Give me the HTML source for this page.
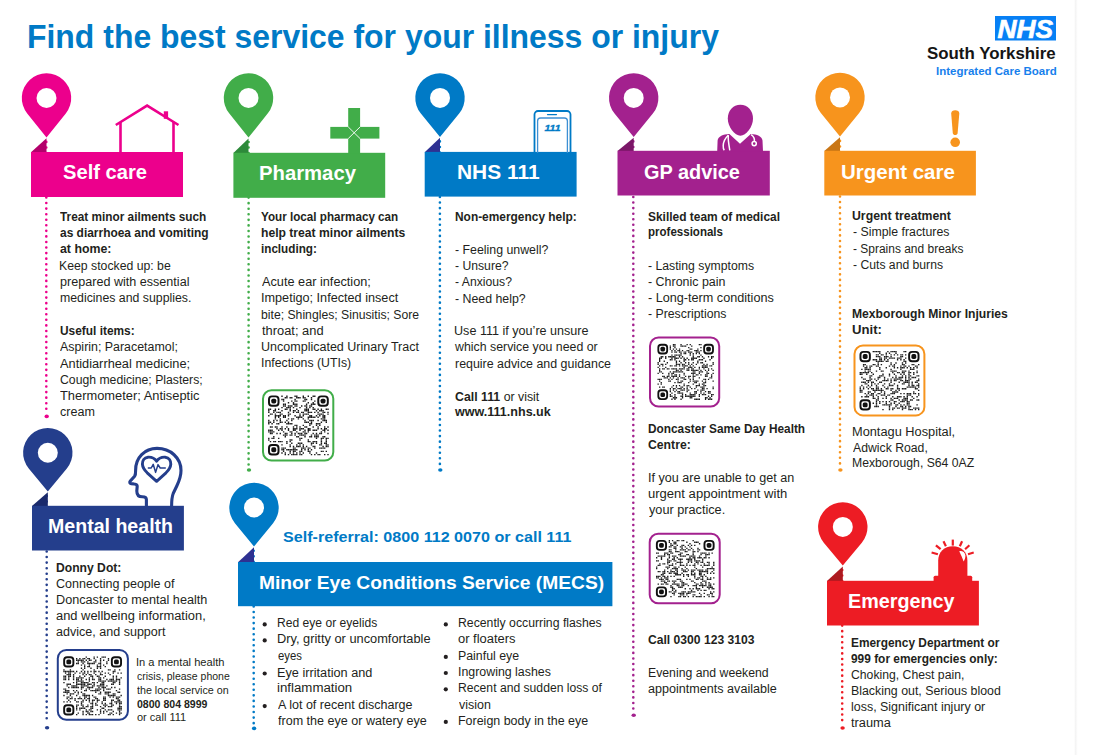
<!DOCTYPE html><html><head><meta charset="utf-8"><style>html,body{margin:0;padding:0;background:#fff;width:1107px;height:755px;overflow:hidden;position:relative}.t{position:absolute;white-space:nowrap;font-family:"Liberation Sans",sans-serif;line-height:normal;transform-origin:0 0}svg{position:absolute;left:0;top:0}</style></head><body><svg width="1107" height="755" viewBox="0 0 1107 755"><defs><linearGradient id="sg" x1="0" x2="1" y1="0" y2="0"><stop offset="0" stop-color="#f1f1f1"/><stop offset="1" stop-color="#ffffff"/></linearGradient></defs><rect x="1074.8" y="0" width="3" height="755" fill="url(#sg)"/><rect x="995" y="16" width="61" height="24.5" fill="#0780f5"/><text x="997.5" y="37.8" font-family="Liberation Sans" font-weight="bold" font-style="italic" font-size="26.5" fill="#fff" stroke="#fff" stroke-width="0.7" textLength="55.5" lengthAdjust="spacingAndGlyphs">NHS</text><line x1="46.3" y1="141.9" x2="46.3" y2="411.4" stroke="#ec008c" stroke-width="2.6" stroke-linecap="round" stroke-dasharray="0 5.56"/><ellipse cx="46.70" cy="416.40" rx="2.2" ry="1.8" fill="#ec008c"/><path d="M46.50 137.50 L65.78 113.45 A24.7 24.7 0 1 0 27.22 113.45 Z" fill="#ec008c"/><circle cx="46.50" cy="98.00" r="10" fill="#fff"/><polygon points="31,152.3 46.5,138.3 46.5,152.3" fill="#b3006b"/><rect x="31" y="152" width="152.00" height="45.00" fill="#ec008c"/><line x1="248.6" y1="142.0" x2="248.6" y2="465" stroke="#41ad49" stroke-width="2.6" stroke-linecap="round" stroke-dasharray="0 5.56"/><ellipse cx="249.00" cy="470.00" rx="2.2" ry="1.8" fill="#41ad49"/><path d="M248.50 137.60 L267.84 113.27 A24.7 24.7 0 1 0 229.16 113.27 Z" fill="#41ad49"/><circle cx="248.50" cy="97.90" r="10" fill="#fff"/><polygon points="233.4,153.10000000000002 248.5,138.4 248.5,153.10000000000002" fill="#2d8a3a"/><rect x="233.4" y="152.8" width="151.80" height="45.00" fill="#41ad49"/><line x1="439.9" y1="141.4" x2="439.9" y2="465" stroke="#007ac6" stroke-width="2.6" stroke-linecap="round" stroke-dasharray="0 5.56"/><ellipse cx="440.30" cy="470.00" rx="2.2" ry="1.8" fill="#007ac6"/><path d="M440.00 137.00 L459.15 113.50 A24.7 24.7 0 1 0 420.85 113.50 Z" fill="#007ac6"/><circle cx="440.00" cy="97.90" r="10" fill="#fff"/><polygon points="424.7,152.20000000000002 440,137.8 440,152.20000000000002" fill="#2e3192"/><rect x="424.7" y="151.9" width="151.90" height="44.70" fill="#007ac6"/><line x1="633.3" y1="141.4" x2="633.3" y2="710.3" stroke="#a3218e" stroke-width="2.6" stroke-linecap="round" stroke-dasharray="0 5.56"/><ellipse cx="633.70" cy="715.30" rx="2.2" ry="1.8" fill="#a3218e"/><path d="M633.70 137.00 L652.85 113.50 A24.7 24.7 0 1 0 614.55 113.50 Z" fill="#a3218e"/><circle cx="633.70" cy="97.90" r="10" fill="#fff"/><polygon points="617.5,151.10000000000002 633.7,137.8 633.7,151.10000000000002" fill="#7b1768"/><rect x="617.5" y="150.8" width="152.30" height="44.70" fill="#a3218e"/><line x1="840" y1="140.9" x2="840" y2="465" stroke="#f7941d" stroke-width="2.6" stroke-linecap="round" stroke-dasharray="0 5.56"/><ellipse cx="840.40" cy="470.00" rx="2.2" ry="1.8" fill="#f7941d"/><path d="M840.00 136.50 L859.15 113.00 A24.7 24.7 0 1 0 820.85 113.00 Z" fill="#f7941d"/><circle cx="840.00" cy="97.40" r="10" fill="#fff"/><polygon points="824.3,151.10000000000002 840,137.3 840,151.10000000000002" fill="#c97616"/><rect x="824.3" y="150.8" width="151.60" height="44.70" fill="#f7941d"/><line x1="46.7" y1="495.9" x2="46.7" y2="722.8" stroke="#243e8c" stroke-width="2.6" stroke-linecap="round" stroke-dasharray="0 5.56"/><ellipse cx="47.10" cy="727.80" rx="2.2" ry="1.8" fill="#243e8c"/><path d="M47.80 491.50 L66.85 468.42 A24.7 24.7 0 1 0 28.75 468.42 Z" fill="#243e8c"/><circle cx="47.80" cy="452.70" r="10" fill="#fff"/><polygon points="32,506.1 47.8,492.3 47.8,506.1" fill="#1a2a6c"/><rect x="32" y="505.8" width="151.90" height="44.70" fill="#243e8c"/><line x1="253.7" y1="550.8" x2="253.7" y2="723.4" stroke="#007ac6" stroke-width="2.6" stroke-linecap="round" stroke-dasharray="0 5.56"/><ellipse cx="254.10" cy="728.40" rx="2.2" ry="1.8" fill="#007ac6"/><path d="M254.00 546.40 L273.08 523.18 A24.7 24.7 0 1 0 234.92 523.18 Z" fill="#007ac6"/><circle cx="254.00" cy="507.50" r="10" fill="#fff"/><polygon points="238,562.3 254,547.1999999999999 254,562.3" fill="#2e3192"/><rect x="238" y="562" width="374.40" height="44.20" fill="#007ac6"/><line x1="842.2" y1="570.0" x2="842.2" y2="723" stroke="#ed1c24" stroke-width="2.6" stroke-linecap="round" stroke-dasharray="0 5.56"/><ellipse cx="842.60" cy="728.00" rx="2.2" ry="1.8" fill="#ed1c24"/><path d="M842.80 565.60 L861.81 542.66 A24.7 24.7 0 1 0 823.79 542.66 Z" fill="#ed1c24"/><circle cx="842.80" cy="526.90" r="10" fill="#fff"/><polygon points="827,581.0999999999999 842.8,566.4 842.8,581.0999999999999" fill="#ad1a20"/><rect x="827" y="580.8" width="151.90" height="44.70" fill="#ed1c24"/><g fill="none" stroke="#ec008c" stroke-width="2.6"><polyline points="115.8,125 147.1,105.6 178.5,125"/><line x1="120.5" y1="122" x2="120.5" y2="152.5"/><line x1="173.5" y1="122" x2="173.5" y2="152.5"/></g><rect x="163.8" y="111.3" width="4.3" height="7.5" fill="#ec008c"/><rect x="348.2" y="108" width="11.9" height="45.5" fill="#41ad49"/><rect x="330.3" y="126.9" width="49.1" height="11.7" fill="#41ad49"/><g stroke="#fff" stroke-width="0.9"><line x1="348.2" y1="126.9" x2="360.1" y2="138.6"/><line x1="360.1" y1="126.9" x2="348.2" y2="138.6"/></g><g fill="none" stroke="#007ac6"><path d="M534.5 153 V114.5 a3.5 3.5 0 0 1 3.5 -3.5 H567 a3.5 3.5 0 0 1 3.5 3.5 V153" stroke-width="1.8"/><path d="M537.6 153 V121 a3 3 0 0 1 3 -3 H564.4 a3 3 0 0 1 3 3 V153" stroke-width="1.3" stroke="#3d8fd3"/><line x1="547.5" y1="114.6" x2="556.5" y2="114.6" stroke-width="1.2" stroke-linecap="round"/></g><text x="544.5" y="130.8" font-family="Liberation Sans" font-weight="bold" font-style="italic" font-size="9.2" fill="#007ac6" stroke="#007ac6" stroke-width="0.3" textLength="16" lengthAdjust="spacingAndGlyphs">111</text><path d="M740.4 104.7 C747.8 104.7 753 110.5 753 118.5 C753 127 746 135.7 740.4 135.7 C734.8 135.7 727.8 127 727.8 118.5 C727.8 110.5 733 104.7 740.4 104.7 Z" fill="#a3218e"/><path d="M717.2 151.5 L717.6 140.5 C718.2 136 723 134.3 729.4 133.9 L740 143.8 L750.8 133.9 C757 134.3 762 136 762.5 140.5 L763 151.5 Z" fill="#a3218e"/><g fill="none" stroke="#fff" stroke-width="1.5"><path d="M728.3 135.2 C725.3 138 723.3 142 723.2 145.5 C723.1 148 723.6 149.5 724.3 150.3"/><path d="M728.3 135.2 C727.8 139 728.5 143 729.8 150.3"/><path d="M751.2 134.6 C753.8 136.5 754.8 139 754.3 141.5"/><circle cx="754.2" cy="143.6" r="2.1"/></g><path d="M951.2 113.6 C951.2 111 953 110.2 955.2 110.2 C957.5 110.2 959.3 111 959.3 113.6 L957.6 133.2 C957.4 134.6 956.4 134.9 955.2 134.9 C954 134.9 953 134.6 952.8 133.2 Z" fill="#f7941d"/><circle cx="955.2" cy="142.3" r="4.8" fill="#f7941d"/><g fill="none" stroke="#243e8c" stroke-width="3.1" stroke-linejoin="round"><path d="M146.4 506.5 L146.4 499.5 C146.4 497.5 145 496.8 142.3 496.8 C138.6 496.8 136.8 494.5 136.8 491 L137.2 486.5 C137.3 484.8 136.4 484.2 134.3 484 L131.2 483.6 C129.6 483.4 129.4 482.2 130.3 481.1 L134.6 476.2 C135.5 475 135.7 473.4 135.6 470.5 C135.4 457.5 144.8 448.4 157 448.4 C170.5 448.4 181 458 181 470.5 C181 476 179.6 480 177 485.5 L173.2 493.5 C172 496.5 171.6 500 171.6 506.5"/><path d="M156.6 461.2 C154.2 457.8 151 457 148 457.2 C144 457.6 142.3 460.8 142.4 464.2 C142.6 467.8 144.6 470.3 147.2 472.8 L156.6 481.3 L166 472.8 C168.6 470.3 170.6 467.8 170.8 464.2 C170.9 460.8 169.2 457.6 165.2 457.2 C162.2 457 159 457.8 156.6 461.2 Z" stroke-width="2.9"/><path d="M147.8 468 L151.2 468 L153.2 464.3 L155.6 472.4 L158 464.6 L160.2 468 L165.8 468" stroke-width="1.5"/></g><path d="M938.2 577 L938.2 560.5 C938.2 552 944.3 546.3 952.8 546.3 C961.3 546.3 967.4 552 967.4 560.5 L967.4 577 Z" fill="#ed1c24"/><rect x="933.6" y="575.8" width="38.6" height="6" rx="1.5" fill="#ed1c24"/><g stroke="#ed1c24" stroke-width="2.2"><line x1="952.8" y1="539.6" x2="952.8" y2="545.6"/><line x1="943.5" y1="541.3" x2="945.9" y2="546.3"/><line x1="962.1" y1="541.3" x2="959.8" y2="546.3"/><line x1="935.9" y1="545.3" x2="940.6" y2="549.2"/><line x1="969.4" y1="545.3" x2="965.1" y2="549.2"/><line x1="931.6" y1="552.5" x2="937.9" y2="554.2"/><line x1="973.7" y1="552.5" x2="968" y2="554.2"/></g><path d="M959.3 551.2 C962 550.6 965 552.2 965.4 555.2 C965.6 557.5 964.6 560 963.6 561.5 C962.6 558 960.6 554.2 959.3 551.2 Z" fill="#fff"/><rect x="263.00" y="390.20" width="70.30" height="70.30" rx="8.5" fill="#fff" stroke="#41ad49" stroke-width="2"/><path d="M281.3 395.5h1.40v1.38h-1.40zM286.2 395.5h1.40v1.38h-1.40zM294.4 395.5h1.40v1.38h-1.40zM296.1 395.5h1.40v1.38h-1.40zM302.6 395.5h1.40v1.38h-1.40zM307.6 395.5h1.40v1.38h-1.40zM312.5 395.5h1.40v1.38h-1.40zM314.1 395.5h1.40v1.38h-1.40zM284.6 397.1h1.40v1.38h-1.40zM286.2 397.1h1.40v1.38h-1.40zM289.5 397.1h1.40v1.38h-1.40zM291.1 397.1h1.40v1.38h-1.40zM296.1 397.1h1.40v1.38h-1.40zM297.7 397.1h1.40v1.38h-1.40zM299.3 397.1h1.40v1.38h-1.40zM302.6 397.1h1.40v1.38h-1.40zM304.3 397.1h1.40v1.38h-1.40zM310.8 397.1h1.40v1.38h-1.40zM281.3 398.8h1.40v1.38h-1.40zM282.9 398.8h1.40v1.38h-1.40zM294.4 398.8h1.40v1.38h-1.40zM304.3 398.8h1.40v1.38h-1.40zM305.9 398.8h1.40v1.38h-1.40zM310.8 398.8h1.40v1.38h-1.40zM282.9 400.4h1.40v1.38h-1.40zM291.1 400.4h1.40v1.38h-1.40zM294.4 400.4h1.40v1.38h-1.40zM296.1 400.4h1.40v1.38h-1.40zM302.6 400.4h1.40v1.38h-1.40zM304.3 400.4h1.40v1.38h-1.40zM314.1 400.4h1.40v1.38h-1.40zM287.8 402.0h1.40v1.38h-1.40zM292.8 402.0h1.40v1.38h-1.40zM307.6 402.0h1.40v1.38h-1.40zM312.5 402.0h1.40v1.38h-1.40zM282.9 403.6h1.40v1.38h-1.40zM284.6 403.6h1.40v1.38h-1.40zM292.8 403.6h1.40v1.38h-1.40zM294.4 403.6h1.40v1.38h-1.40zM296.1 403.6h1.40v1.38h-1.40zM305.9 403.6h1.40v1.38h-1.40zM310.8 403.6h1.40v1.38h-1.40zM312.5 403.6h1.40v1.38h-1.40zM314.1 403.6h1.40v1.38h-1.40zM282.9 405.3h1.40v1.38h-1.40zM284.6 405.3h1.40v1.38h-1.40zM287.8 405.3h1.40v1.38h-1.40zM289.5 405.3h1.40v1.38h-1.40zM291.1 405.3h1.40v1.38h-1.40zM294.4 405.3h1.40v1.38h-1.40zM296.1 405.3h1.40v1.38h-1.40zM301.0 405.3h1.40v1.38h-1.40zM304.3 405.3h1.40v1.38h-1.40zM305.9 405.3h1.40v1.38h-1.40zM309.2 405.3h1.40v1.38h-1.40zM310.8 405.3h1.40v1.38h-1.40zM281.3 406.9h1.40v1.38h-1.40zM286.2 406.9h1.40v1.38h-1.40zM287.8 406.9h1.40v1.38h-1.40zM289.5 406.9h1.40v1.38h-1.40zM292.8 406.9h1.40v1.38h-1.40zM299.3 406.9h1.40v1.38h-1.40zM305.9 406.9h1.40v1.38h-1.40zM309.2 406.9h1.40v1.38h-1.40zM312.5 406.9h1.40v1.38h-1.40zM268.1 408.5h1.40v1.38h-1.40zM269.8 408.5h1.40v1.38h-1.40zM274.7 408.5h1.40v1.38h-1.40zM278.0 408.5h1.40v1.38h-1.40zM284.6 408.5h1.40v1.38h-1.40zM286.2 408.5h1.40v1.38h-1.40zM289.5 408.5h1.40v1.38h-1.40zM296.1 408.5h1.40v1.38h-1.40zM304.3 408.5h1.40v1.38h-1.40zM305.9 408.5h1.40v1.38h-1.40zM307.6 408.5h1.40v1.38h-1.40zM312.5 408.5h1.40v1.38h-1.40zM314.1 408.5h1.40v1.38h-1.40zM317.4 408.5h1.40v1.38h-1.40zM320.7 408.5h1.40v1.38h-1.40zM325.6 408.5h1.40v1.38h-1.40zM327.3 408.5h1.40v1.38h-1.40zM268.1 410.1h1.40v1.38h-1.40zM273.1 410.1h1.40v1.38h-1.40zM274.7 410.1h1.40v1.38h-1.40zM281.3 410.1h1.40v1.38h-1.40zM289.5 410.1h1.40v1.38h-1.40zM292.8 410.1h1.40v1.38h-1.40zM294.4 410.1h1.40v1.38h-1.40zM297.7 410.1h1.40v1.38h-1.40zM304.3 410.1h1.40v1.38h-1.40zM305.9 410.1h1.40v1.38h-1.40zM307.6 410.1h1.40v1.38h-1.40zM315.8 410.1h1.40v1.38h-1.40zM319.1 410.1h1.40v1.38h-1.40zM320.7 410.1h1.40v1.38h-1.40zM322.4 410.1h1.40v1.38h-1.40zM268.1 411.7h1.40v1.38h-1.40zM273.1 411.7h1.40v1.38h-1.40zM276.3 411.7h1.40v1.38h-1.40zM278.0 411.7h1.40v1.38h-1.40zM279.6 411.7h1.40v1.38h-1.40zM287.8 411.7h1.40v1.38h-1.40zM292.8 411.7h1.40v1.38h-1.40zM296.1 411.7h1.40v1.38h-1.40zM297.7 411.7h1.40v1.38h-1.40zM301.0 411.7h1.40v1.38h-1.40zM302.6 411.7h1.40v1.38h-1.40zM307.6 411.7h1.40v1.38h-1.40zM309.2 411.7h1.40v1.38h-1.40zM310.8 411.7h1.40v1.38h-1.40zM314.1 411.7h1.40v1.38h-1.40zM317.4 411.7h1.40v1.38h-1.40zM322.4 411.7h1.40v1.38h-1.40zM324.0 411.7h1.40v1.38h-1.40zM327.3 411.7h1.40v1.38h-1.40zM269.8 413.4h1.40v1.38h-1.40zM271.4 413.4h1.40v1.38h-1.40zM274.7 413.4h1.40v1.38h-1.40zM279.6 413.4h1.40v1.38h-1.40zM281.3 413.4h1.40v1.38h-1.40zM287.8 413.4h1.40v1.38h-1.40zM289.5 413.4h1.40v1.38h-1.40zM299.3 413.4h1.40v1.38h-1.40zM302.6 413.4h1.40v1.38h-1.40zM304.3 413.4h1.40v1.38h-1.40zM305.9 413.4h1.40v1.38h-1.40zM307.6 413.4h1.40v1.38h-1.40zM317.4 413.4h1.40v1.38h-1.40zM319.1 413.4h1.40v1.38h-1.40zM320.7 413.4h1.40v1.38h-1.40zM322.4 413.4h1.40v1.38h-1.40zM327.3 413.4h1.40v1.38h-1.40zM268.1 415.0h1.40v1.38h-1.40zM274.7 415.0h1.40v1.38h-1.40zM276.3 415.0h1.40v1.38h-1.40zM278.0 415.0h1.40v1.38h-1.40zM279.6 415.0h1.40v1.38h-1.40zM282.9 415.0h1.40v1.38h-1.40zM284.6 415.0h1.40v1.38h-1.40zM287.8 415.0h1.40v1.38h-1.40zM294.4 415.0h1.40v1.38h-1.40zM299.3 415.0h1.40v1.38h-1.40zM302.6 415.0h1.40v1.38h-1.40zM309.2 415.0h1.40v1.38h-1.40zM310.8 415.0h1.40v1.38h-1.40zM315.8 415.0h1.40v1.38h-1.40zM319.1 415.0h1.40v1.38h-1.40zM322.4 415.0h1.40v1.38h-1.40zM324.0 415.0h1.40v1.38h-1.40zM274.7 416.6h1.40v1.38h-1.40zM278.0 416.6h1.40v1.38h-1.40zM282.9 416.6h1.40v1.38h-1.40zM284.6 416.6h1.40v1.38h-1.40zM296.1 416.6h1.40v1.38h-1.40zM297.7 416.6h1.40v1.38h-1.40zM299.3 416.6h1.40v1.38h-1.40zM301.0 416.6h1.40v1.38h-1.40zM307.6 416.6h1.40v1.38h-1.40zM309.2 416.6h1.40v1.38h-1.40zM310.8 416.6h1.40v1.38h-1.40zM312.5 416.6h1.40v1.38h-1.40zM314.1 416.6h1.40v1.38h-1.40zM317.4 416.6h1.40v1.38h-1.40zM322.4 416.6h1.40v1.38h-1.40zM324.0 416.6h1.40v1.38h-1.40zM274.7 418.2h1.40v1.38h-1.40zM279.6 418.2h1.40v1.38h-1.40zM287.8 418.2h1.40v1.38h-1.40zM291.1 418.2h1.40v1.38h-1.40zM292.8 418.2h1.40v1.38h-1.40zM297.7 418.2h1.40v1.38h-1.40zM302.6 418.2h1.40v1.38h-1.40zM307.6 418.2h1.40v1.38h-1.40zM320.7 418.2h1.40v1.38h-1.40zM322.4 418.2h1.40v1.38h-1.40zM324.0 418.2h1.40v1.38h-1.40zM268.1 419.8h1.40v1.38h-1.40zM273.1 419.8h1.40v1.38h-1.40zM276.3 419.8h1.40v1.38h-1.40zM279.6 419.8h1.40v1.38h-1.40zM286.2 419.8h1.40v1.38h-1.40zM291.1 419.8h1.40v1.38h-1.40zM304.3 419.8h1.40v1.38h-1.40zM309.2 419.8h1.40v1.38h-1.40zM310.8 419.8h1.40v1.38h-1.40zM312.5 419.8h1.40v1.38h-1.40zM317.4 419.8h1.40v1.38h-1.40zM322.4 419.8h1.40v1.38h-1.40zM324.0 419.8h1.40v1.38h-1.40zM325.6 419.8h1.40v1.38h-1.40zM268.1 421.5h1.40v1.38h-1.40zM269.8 421.5h1.40v1.38h-1.40zM273.1 421.5h1.40v1.38h-1.40zM279.6 421.5h1.40v1.38h-1.40zM281.3 421.5h1.40v1.38h-1.40zM284.6 421.5h1.40v1.38h-1.40zM287.8 421.5h1.40v1.38h-1.40zM304.3 421.5h1.40v1.38h-1.40zM305.9 421.5h1.40v1.38h-1.40zM307.6 421.5h1.40v1.38h-1.40zM310.8 421.5h1.40v1.38h-1.40zM320.7 421.5h1.40v1.38h-1.40zM325.6 421.5h1.40v1.38h-1.40zM268.1 423.1h1.40v1.38h-1.40zM271.4 423.1h1.40v1.38h-1.40zM276.3 423.1h1.40v1.38h-1.40zM278.0 423.1h1.40v1.38h-1.40zM286.2 423.1h1.40v1.38h-1.40zM287.8 423.1h1.40v1.38h-1.40zM289.5 423.1h1.40v1.38h-1.40zM291.1 423.1h1.40v1.38h-1.40zM309.2 423.1h1.40v1.38h-1.40zM310.8 423.1h1.40v1.38h-1.40zM315.8 423.1h1.40v1.38h-1.40zM317.4 423.1h1.40v1.38h-1.40zM319.1 423.1h1.40v1.38h-1.40zM294.4 424.7h1.40v1.38h-1.40zM296.1 424.7h1.40v1.38h-1.40zM302.6 424.7h1.40v1.38h-1.40zM309.2 424.7h1.40v1.38h-1.40zM315.8 424.7h1.40v1.38h-1.40zM319.1 424.7h1.40v1.38h-1.40zM269.8 426.3h1.40v1.38h-1.40zM271.4 426.3h1.40v1.38h-1.40zM274.7 426.3h1.40v1.38h-1.40zM276.3 426.3h1.40v1.38h-1.40zM281.3 426.3h1.40v1.38h-1.40zM286.2 426.3h1.40v1.38h-1.40zM292.8 426.3h1.40v1.38h-1.40zM296.1 426.3h1.40v1.38h-1.40zM299.3 426.3h1.40v1.38h-1.40zM304.3 426.3h1.40v1.38h-1.40zM305.9 426.3h1.40v1.38h-1.40zM312.5 426.3h1.40v1.38h-1.40zM317.4 426.3h1.40v1.38h-1.40zM324.0 426.3h1.40v1.38h-1.40zM327.3 426.3h1.40v1.38h-1.40zM276.3 428.0h1.40v1.38h-1.40zM279.6 428.0h1.40v1.38h-1.40zM281.3 428.0h1.40v1.38h-1.40zM284.6 428.0h1.40v1.38h-1.40zM287.8 428.0h1.40v1.38h-1.40zM292.8 428.0h1.40v1.38h-1.40zM294.4 428.0h1.40v1.38h-1.40zM296.1 428.0h1.40v1.38h-1.40zM299.3 428.0h1.40v1.38h-1.40zM301.0 428.0h1.40v1.38h-1.40zM302.6 428.0h1.40v1.38h-1.40zM307.6 428.0h1.40v1.38h-1.40zM309.2 428.0h1.40v1.38h-1.40zM317.4 428.0h1.40v1.38h-1.40zM320.7 428.0h1.40v1.38h-1.40zM324.0 428.0h1.40v1.38h-1.40zM325.6 428.0h1.40v1.38h-1.40zM268.1 429.6h1.40v1.38h-1.40zM269.8 429.6h1.40v1.38h-1.40zM271.4 429.6h1.40v1.38h-1.40zM278.0 429.6h1.40v1.38h-1.40zM281.3 429.6h1.40v1.38h-1.40zM287.8 429.6h1.40v1.38h-1.40zM292.8 429.6h1.40v1.38h-1.40zM294.4 429.6h1.40v1.38h-1.40zM299.3 429.6h1.40v1.38h-1.40zM304.3 429.6h1.40v1.38h-1.40zM307.6 429.6h1.40v1.38h-1.40zM309.2 429.6h1.40v1.38h-1.40zM312.5 429.6h1.40v1.38h-1.40zM314.1 429.6h1.40v1.38h-1.40zM315.8 429.6h1.40v1.38h-1.40zM322.4 429.6h1.40v1.38h-1.40zM324.0 429.6h1.40v1.38h-1.40zM327.3 429.6h1.40v1.38h-1.40zM268.1 431.2h1.40v1.38h-1.40zM269.8 431.2h1.40v1.38h-1.40zM271.4 431.2h1.40v1.38h-1.40zM273.1 431.2h1.40v1.38h-1.40zM282.9 431.2h1.40v1.38h-1.40zM289.5 431.2h1.40v1.38h-1.40zM291.1 431.2h1.40v1.38h-1.40zM296.1 431.2h1.40v1.38h-1.40zM302.6 431.2h1.40v1.38h-1.40zM304.3 431.2h1.40v1.38h-1.40zM307.6 431.2h1.40v1.38h-1.40zM320.7 431.2h1.40v1.38h-1.40zM324.0 431.2h1.40v1.38h-1.40zM269.8 432.8h1.40v1.38h-1.40zM271.4 432.8h1.40v1.38h-1.40zM276.3 432.8h1.40v1.38h-1.40zM279.6 432.8h1.40v1.38h-1.40zM284.6 432.8h1.40v1.38h-1.40zM286.2 432.8h1.40v1.38h-1.40zM291.1 432.8h1.40v1.38h-1.40zM294.4 432.8h1.40v1.38h-1.40zM297.7 432.8h1.40v1.38h-1.40zM299.3 432.8h1.40v1.38h-1.40zM301.0 432.8h1.40v1.38h-1.40zM304.3 432.8h1.40v1.38h-1.40zM305.9 432.8h1.40v1.38h-1.40zM312.5 432.8h1.40v1.38h-1.40zM315.8 432.8h1.40v1.38h-1.40zM319.1 432.8h1.40v1.38h-1.40zM320.7 432.8h1.40v1.38h-1.40zM327.3 432.8h1.40v1.38h-1.40zM282.9 434.4h1.40v1.38h-1.40zM284.6 434.4h1.40v1.38h-1.40zM286.2 434.4h1.40v1.38h-1.40zM289.5 434.4h1.40v1.38h-1.40zM291.1 434.4h1.40v1.38h-1.40zM294.4 434.4h1.40v1.38h-1.40zM299.3 434.4h1.40v1.38h-1.40zM301.0 434.4h1.40v1.38h-1.40zM302.6 434.4h1.40v1.38h-1.40zM304.3 434.4h1.40v1.38h-1.40zM310.8 434.4h1.40v1.38h-1.40zM314.1 434.4h1.40v1.38h-1.40zM315.8 434.4h1.40v1.38h-1.40zM317.4 434.4h1.40v1.38h-1.40zM273.1 436.1h1.40v1.38h-1.40zM284.6 436.1h1.40v1.38h-1.40zM296.1 436.1h1.40v1.38h-1.40zM297.7 436.1h1.40v1.38h-1.40zM304.3 436.1h1.40v1.38h-1.40zM309.2 436.1h1.40v1.38h-1.40zM310.8 436.1h1.40v1.38h-1.40zM314.1 436.1h1.40v1.38h-1.40zM315.8 436.1h1.40v1.38h-1.40zM317.4 436.1h1.40v1.38h-1.40zM322.4 436.1h1.40v1.38h-1.40zM324.0 436.1h1.40v1.38h-1.40zM268.1 437.7h1.40v1.38h-1.40zM271.4 437.7h1.40v1.38h-1.40zM273.1 437.7h1.40v1.38h-1.40zM278.0 437.7h1.40v1.38h-1.40zM299.3 437.7h1.40v1.38h-1.40zM301.0 437.7h1.40v1.38h-1.40zM315.8 437.7h1.40v1.38h-1.40zM320.7 437.7h1.40v1.38h-1.40zM322.4 437.7h1.40v1.38h-1.40zM325.6 437.7h1.40v1.38h-1.40zM327.3 437.7h1.40v1.38h-1.40zM268.1 439.3h1.40v1.38h-1.40zM289.5 439.3h1.40v1.38h-1.40zM291.1 439.3h1.40v1.38h-1.40zM299.3 439.3h1.40v1.38h-1.40zM307.6 439.3h1.40v1.38h-1.40zM320.7 439.3h1.40v1.38h-1.40zM325.6 439.3h1.40v1.38h-1.40zM269.8 440.9h1.40v1.38h-1.40zM273.1 440.9h1.40v1.38h-1.40zM274.7 440.9h1.40v1.38h-1.40zM278.0 440.9h1.40v1.38h-1.40zM279.6 440.9h1.40v1.38h-1.40zM281.3 440.9h1.40v1.38h-1.40zM286.2 440.9h1.40v1.38h-1.40zM289.5 440.9h1.40v1.38h-1.40zM307.6 440.9h1.40v1.38h-1.40zM309.2 440.9h1.40v1.38h-1.40zM312.5 440.9h1.40v1.38h-1.40zM314.1 440.9h1.40v1.38h-1.40zM315.8 440.9h1.40v1.38h-1.40zM320.7 440.9h1.40v1.38h-1.40zM325.6 440.9h1.40v1.38h-1.40zM286.2 442.5h1.40v1.38h-1.40zM291.1 442.5h1.40v1.38h-1.40zM297.7 442.5h1.40v1.38h-1.40zM299.3 442.5h1.40v1.38h-1.40zM301.0 442.5h1.40v1.38h-1.40zM310.8 442.5h1.40v1.38h-1.40zM312.5 442.5h1.40v1.38h-1.40zM315.8 442.5h1.40v1.38h-1.40zM320.7 442.5h1.40v1.38h-1.40zM324.0 442.5h1.40v1.38h-1.40zM325.6 442.5h1.40v1.38h-1.40zM281.3 444.2h1.40v1.38h-1.40zM289.5 444.2h1.40v1.38h-1.40zM296.1 444.2h1.40v1.38h-1.40zM299.3 444.2h1.40v1.38h-1.40zM302.6 444.2h1.40v1.38h-1.40zM310.8 444.2h1.40v1.38h-1.40zM319.1 444.2h1.40v1.38h-1.40zM320.7 444.2h1.40v1.38h-1.40zM325.6 444.2h1.40v1.38h-1.40zM327.3 444.2h1.40v1.38h-1.40zM289.5 445.8h1.40v1.38h-1.40zM292.8 445.8h1.40v1.38h-1.40zM296.1 445.8h1.40v1.38h-1.40zM297.7 445.8h1.40v1.38h-1.40zM299.3 445.8h1.40v1.38h-1.40zM302.6 445.8h1.40v1.38h-1.40zM305.9 445.8h1.40v1.38h-1.40zM312.5 445.8h1.40v1.38h-1.40zM314.1 445.8h1.40v1.38h-1.40zM322.4 445.8h1.40v1.38h-1.40zM325.6 445.8h1.40v1.38h-1.40zM327.3 445.8h1.40v1.38h-1.40zM281.3 447.4h1.40v1.38h-1.40zM282.9 447.4h1.40v1.38h-1.40zM284.6 447.4h1.40v1.38h-1.40zM292.8 447.4h1.40v1.38h-1.40zM294.4 447.4h1.40v1.38h-1.40zM301.0 447.4h1.40v1.38h-1.40zM302.6 447.4h1.40v1.38h-1.40zM304.3 447.4h1.40v1.38h-1.40zM307.6 447.4h1.40v1.38h-1.40zM309.2 447.4h1.40v1.38h-1.40zM314.1 447.4h1.40v1.38h-1.40zM319.1 447.4h1.40v1.38h-1.40zM320.7 447.4h1.40v1.38h-1.40zM322.4 447.4h1.40v1.38h-1.40zM324.0 447.4h1.40v1.38h-1.40zM281.3 449.0h1.40v1.38h-1.40zM282.9 449.0h1.40v1.38h-1.40zM286.2 449.0h1.40v1.38h-1.40zM287.8 449.0h1.40v1.38h-1.40zM289.5 449.0h1.40v1.38h-1.40zM291.1 449.0h1.40v1.38h-1.40zM292.8 449.0h1.40v1.38h-1.40zM294.4 449.0h1.40v1.38h-1.40zM296.1 449.0h1.40v1.38h-1.40zM301.0 449.0h1.40v1.38h-1.40zM304.3 449.0h1.40v1.38h-1.40zM307.6 449.0h1.40v1.38h-1.40zM310.8 449.0h1.40v1.38h-1.40zM282.9 450.7h1.40v1.38h-1.40zM289.5 450.7h1.40v1.38h-1.40zM292.8 450.7h1.40v1.38h-1.40zM294.4 450.7h1.40v1.38h-1.40zM299.3 450.7h1.40v1.38h-1.40zM301.0 450.7h1.40v1.38h-1.40zM307.6 450.7h1.40v1.38h-1.40zM309.2 450.7h1.40v1.38h-1.40zM320.7 450.7h1.40v1.38h-1.40zM322.4 450.7h1.40v1.38h-1.40zM325.6 450.7h1.40v1.38h-1.40zM281.3 452.3h1.40v1.38h-1.40zM284.6 452.3h1.40v1.38h-1.40zM289.5 452.3h1.40v1.38h-1.40zM292.8 452.3h1.40v1.38h-1.40zM296.1 452.3h1.40v1.38h-1.40zM299.3 452.3h1.40v1.38h-1.40zM302.6 452.3h1.40v1.38h-1.40zM309.2 452.3h1.40v1.38h-1.40zM315.8 452.3h1.40v1.38h-1.40zM284.6 453.9h1.40v1.38h-1.40zM287.8 453.9h1.40v1.38h-1.40zM291.1 453.9h1.40v1.38h-1.40zM292.8 453.9h1.40v1.38h-1.40zM294.4 453.9h1.40v1.38h-1.40zM296.1 453.9h1.40v1.38h-1.40zM299.3 453.9h1.40v1.38h-1.40zM301.0 453.9h1.40v1.38h-1.40zM310.8 453.9h1.40v1.38h-1.40zM314.1 453.9h1.40v1.38h-1.40zM317.4 453.9h1.40v1.38h-1.40zM319.1 453.9h1.40v1.38h-1.40zM324.0 453.9h1.40v1.38h-1.40zM327.3 453.9h1.40v1.38h-1.40z" fill="#1a1a1a"/><rect x="268.99" y="396.37" width="9.53" height="9.41" rx="2.96" fill="none" stroke="#111" stroke-width="1.97"/><rect x="271.29" y="398.64" width="4.93" height="4.86" rx="1.64" fill="#111"/><rect x="318.28" y="396.37" width="9.53" height="9.41" rx="2.96" fill="none" stroke="#111" stroke-width="1.97"/><rect x="320.58" y="398.64" width="4.93" height="4.86" rx="1.64" fill="#111"/><rect x="268.99" y="445.02" width="9.53" height="9.41" rx="2.96" fill="none" stroke="#111" stroke-width="1.97"/><rect x="271.29" y="447.29" width="4.93" height="4.86" rx="1.64" fill="#111"/><rect x="650.00" y="337.50" width="69.20" height="69.00" rx="8.5" fill="#fff" stroke="#a3218e" stroke-width="2"/><path d="M672.8 343.9h1.30v1.29h-1.30zM674.3 343.9h1.30v1.29h-1.30zM680.4 343.9h1.30v1.29h-1.30zM686.5 343.9h1.30v1.29h-1.30zM689.6 343.9h1.30v1.29h-1.30zM698.7 343.9h1.30v1.29h-1.30zM700.3 343.9h1.30v1.29h-1.30zM669.7 345.4h1.30v1.29h-1.30zM672.8 345.4h1.30v1.29h-1.30zM674.3 345.4h1.30v1.29h-1.30zM680.4 345.4h1.30v1.29h-1.30zM681.9 345.4h1.30v1.29h-1.30zM683.5 345.4h1.30v1.29h-1.30zM685.0 345.4h1.30v1.29h-1.30zM691.1 345.4h1.30v1.29h-1.30zM669.7 347.0h1.30v1.29h-1.30zM674.3 347.0h1.30v1.29h-1.30zM688.1 347.0h1.30v1.29h-1.30zM700.3 347.0h1.30v1.29h-1.30zM669.7 348.5h1.30v1.29h-1.30zM672.8 348.5h1.30v1.29h-1.30zM675.8 348.5h1.30v1.29h-1.30zM678.9 348.5h1.30v1.29h-1.30zM689.6 348.5h1.30v1.29h-1.30zM691.1 348.5h1.30v1.29h-1.30zM697.2 348.5h1.30v1.29h-1.30zM671.3 350.0h1.30v1.29h-1.30zM674.3 350.0h1.30v1.29h-1.30zM677.4 350.0h1.30v1.29h-1.30zM678.9 350.0h1.30v1.29h-1.30zM681.9 350.0h1.30v1.29h-1.30zM686.5 350.0h1.30v1.29h-1.30zM688.1 350.0h1.30v1.29h-1.30zM694.2 350.0h1.30v1.29h-1.30zM695.7 350.0h1.30v1.29h-1.30zM697.2 350.0h1.30v1.29h-1.30zM700.3 350.0h1.30v1.29h-1.30zM671.3 351.5h1.30v1.29h-1.30zM674.3 351.5h1.30v1.29h-1.30zM675.8 351.5h1.30v1.29h-1.30zM678.9 351.5h1.30v1.29h-1.30zM680.4 351.5h1.30v1.29h-1.30zM683.5 351.5h1.30v1.29h-1.30zM685.0 351.5h1.30v1.29h-1.30zM688.1 351.5h1.30v1.29h-1.30zM689.6 351.5h1.30v1.29h-1.30zM691.1 351.5h1.30v1.29h-1.30zM695.7 351.5h1.30v1.29h-1.30zM697.2 351.5h1.30v1.29h-1.30zM698.7 351.5h1.30v1.29h-1.30zM680.4 353.0h1.30v1.29h-1.30zM683.5 353.0h1.30v1.29h-1.30zM685.0 353.0h1.30v1.29h-1.30zM689.6 353.0h1.30v1.29h-1.30zM692.6 353.0h1.30v1.29h-1.30zM695.7 353.0h1.30v1.29h-1.30zM698.7 353.0h1.30v1.29h-1.30zM671.3 354.5h1.30v1.29h-1.30zM674.3 354.5h1.30v1.29h-1.30zM675.8 354.5h1.30v1.29h-1.30zM677.4 354.5h1.30v1.29h-1.30zM678.9 354.5h1.30v1.29h-1.30zM680.4 354.5h1.30v1.29h-1.30zM689.6 354.5h1.30v1.29h-1.30zM692.6 354.5h1.30v1.29h-1.30zM700.3 354.5h1.30v1.29h-1.30zM660.6 356.1h1.30v1.29h-1.30zM662.1 356.1h1.30v1.29h-1.30zM665.1 356.1h1.30v1.29h-1.30zM668.2 356.1h1.30v1.29h-1.30zM669.7 356.1h1.30v1.29h-1.30zM671.3 356.1h1.30v1.29h-1.30zM672.8 356.1h1.30v1.29h-1.30zM674.3 356.1h1.30v1.29h-1.30zM678.9 356.1h1.30v1.29h-1.30zM681.9 356.1h1.30v1.29h-1.30zM692.6 356.1h1.30v1.29h-1.30zM697.2 356.1h1.30v1.29h-1.30zM698.7 356.1h1.30v1.29h-1.30zM701.8 356.1h1.30v1.29h-1.30zM707.9 356.1h1.30v1.29h-1.30zM711.0 356.1h1.30v1.29h-1.30zM712.5 356.1h1.30v1.29h-1.30zM659.0 357.6h1.30v1.29h-1.30zM660.6 357.6h1.30v1.29h-1.30zM665.1 357.6h1.30v1.29h-1.30zM671.3 357.6h1.30v1.29h-1.30zM674.3 357.6h1.30v1.29h-1.30zM675.8 357.6h1.30v1.29h-1.30zM677.4 357.6h1.30v1.29h-1.30zM680.4 357.6h1.30v1.29h-1.30zM683.5 357.6h1.30v1.29h-1.30zM686.5 357.6h1.30v1.29h-1.30zM691.1 357.6h1.30v1.29h-1.30zM692.6 357.6h1.30v1.29h-1.30zM694.2 357.6h1.30v1.29h-1.30zM695.7 357.6h1.30v1.29h-1.30zM703.3 357.6h1.30v1.29h-1.30zM711.0 357.6h1.30v1.29h-1.30zM659.0 359.1h1.30v1.29h-1.30zM669.7 359.1h1.30v1.29h-1.30zM671.3 359.1h1.30v1.29h-1.30zM674.3 359.1h1.30v1.29h-1.30zM683.5 359.1h1.30v1.29h-1.30zM685.0 359.1h1.30v1.29h-1.30zM688.1 359.1h1.30v1.29h-1.30zM691.1 359.1h1.30v1.29h-1.30zM692.6 359.1h1.30v1.29h-1.30zM698.7 359.1h1.30v1.29h-1.30zM700.3 359.1h1.30v1.29h-1.30zM701.8 359.1h1.30v1.29h-1.30zM709.4 359.1h1.30v1.29h-1.30zM659.0 360.6h1.30v1.29h-1.30zM663.6 360.6h1.30v1.29h-1.30zM675.8 360.6h1.30v1.29h-1.30zM678.9 360.6h1.30v1.29h-1.30zM683.5 360.6h1.30v1.29h-1.30zM697.2 360.6h1.30v1.29h-1.30zM704.9 360.6h1.30v1.29h-1.30zM657.5 362.1h1.30v1.29h-1.30zM666.7 362.1h1.30v1.29h-1.30zM675.8 362.1h1.30v1.29h-1.30zM680.4 362.1h1.30v1.29h-1.30zM685.0 362.1h1.30v1.29h-1.30zM688.1 362.1h1.30v1.29h-1.30zM692.6 362.1h1.30v1.29h-1.30zM697.2 362.1h1.30v1.29h-1.30zM700.3 362.1h1.30v1.29h-1.30zM701.8 362.1h1.30v1.29h-1.30zM712.5 362.1h1.30v1.29h-1.30zM657.5 363.7h1.30v1.29h-1.30zM660.6 363.7h1.30v1.29h-1.30zM662.1 363.7h1.30v1.29h-1.30zM665.1 363.7h1.30v1.29h-1.30zM675.8 363.7h1.30v1.29h-1.30zM677.4 363.7h1.30v1.29h-1.30zM678.9 363.7h1.30v1.29h-1.30zM681.9 363.7h1.30v1.29h-1.30zM683.5 363.7h1.30v1.29h-1.30zM688.1 363.7h1.30v1.29h-1.30zM691.1 363.7h1.30v1.29h-1.30zM695.7 363.7h1.30v1.29h-1.30zM703.3 363.7h1.30v1.29h-1.30zM706.4 363.7h1.30v1.29h-1.30zM712.5 363.7h1.30v1.29h-1.30zM659.0 365.2h1.30v1.29h-1.30zM662.1 365.2h1.30v1.29h-1.30zM669.7 365.2h1.30v1.29h-1.30zM671.3 365.2h1.30v1.29h-1.30zM674.3 365.2h1.30v1.29h-1.30zM675.8 365.2h1.30v1.29h-1.30zM678.9 365.2h1.30v1.29h-1.30zM681.9 365.2h1.30v1.29h-1.30zM683.5 365.2h1.30v1.29h-1.30zM685.0 365.2h1.30v1.29h-1.30zM686.5 365.2h1.30v1.29h-1.30zM689.6 365.2h1.30v1.29h-1.30zM692.6 365.2h1.30v1.29h-1.30zM701.8 365.2h1.30v1.29h-1.30zM703.3 365.2h1.30v1.29h-1.30zM704.9 365.2h1.30v1.29h-1.30zM706.4 365.2h1.30v1.29h-1.30zM709.4 365.2h1.30v1.29h-1.30zM711.0 365.2h1.30v1.29h-1.30zM657.5 366.7h1.30v1.29h-1.30zM665.1 366.7h1.30v1.29h-1.30zM683.5 366.7h1.30v1.29h-1.30zM688.1 366.7h1.30v1.29h-1.30zM689.6 366.7h1.30v1.29h-1.30zM691.1 366.7h1.30v1.29h-1.30zM694.2 366.7h1.30v1.29h-1.30zM698.7 366.7h1.30v1.29h-1.30zM701.8 366.7h1.30v1.29h-1.30zM703.3 366.7h1.30v1.29h-1.30zM704.9 366.7h1.30v1.29h-1.30zM706.4 366.7h1.30v1.29h-1.30zM659.0 368.2h1.30v1.29h-1.30zM662.1 368.2h1.30v1.29h-1.30zM663.6 368.2h1.30v1.29h-1.30zM666.7 368.2h1.30v1.29h-1.30zM668.2 368.2h1.30v1.29h-1.30zM671.3 368.2h1.30v1.29h-1.30zM672.8 368.2h1.30v1.29h-1.30zM674.3 368.2h1.30v1.29h-1.30zM675.8 368.2h1.30v1.29h-1.30zM678.9 368.2h1.30v1.29h-1.30zM680.4 368.2h1.30v1.29h-1.30zM681.9 368.2h1.30v1.29h-1.30zM683.5 368.2h1.30v1.29h-1.30zM686.5 368.2h1.30v1.29h-1.30zM688.1 368.2h1.30v1.29h-1.30zM691.1 368.2h1.30v1.29h-1.30zM692.6 368.2h1.30v1.29h-1.30zM698.7 368.2h1.30v1.29h-1.30zM703.3 368.2h1.30v1.29h-1.30zM707.9 368.2h1.30v1.29h-1.30zM711.0 368.2h1.30v1.29h-1.30zM659.0 369.7h1.30v1.29h-1.30zM675.8 369.7h1.30v1.29h-1.30zM677.4 369.7h1.30v1.29h-1.30zM680.4 369.7h1.30v1.29h-1.30zM686.5 369.7h1.30v1.29h-1.30zM688.1 369.7h1.30v1.29h-1.30zM691.1 369.7h1.30v1.29h-1.30zM692.6 369.7h1.30v1.29h-1.30zM694.2 369.7h1.30v1.29h-1.30zM695.7 369.7h1.30v1.29h-1.30zM697.2 369.7h1.30v1.29h-1.30zM700.3 369.7h1.30v1.29h-1.30zM704.9 369.7h1.30v1.29h-1.30zM707.9 369.7h1.30v1.29h-1.30zM712.5 369.7h1.30v1.29h-1.30zM659.0 371.3h1.30v1.29h-1.30zM660.6 371.3h1.30v1.29h-1.30zM669.7 371.3h1.30v1.29h-1.30zM672.8 371.3h1.30v1.29h-1.30zM674.3 371.3h1.30v1.29h-1.30zM675.8 371.3h1.30v1.29h-1.30zM677.4 371.3h1.30v1.29h-1.30zM678.9 371.3h1.30v1.29h-1.30zM680.4 371.3h1.30v1.29h-1.30zM681.9 371.3h1.30v1.29h-1.30zM692.6 371.3h1.30v1.29h-1.30zM694.2 371.3h1.30v1.29h-1.30zM698.7 371.3h1.30v1.29h-1.30zM700.3 371.3h1.30v1.29h-1.30zM701.8 371.3h1.30v1.29h-1.30zM706.4 371.3h1.30v1.29h-1.30zM657.5 372.8h1.30v1.29h-1.30zM662.1 372.8h1.30v1.29h-1.30zM668.2 372.8h1.30v1.29h-1.30zM671.3 372.8h1.30v1.29h-1.30zM672.8 372.8h1.30v1.29h-1.30zM683.5 372.8h1.30v1.29h-1.30zM691.1 372.8h1.30v1.29h-1.30zM692.6 372.8h1.30v1.29h-1.30zM694.2 372.8h1.30v1.29h-1.30zM698.7 372.8h1.30v1.29h-1.30zM706.4 372.8h1.30v1.29h-1.30zM707.9 372.8h1.30v1.29h-1.30zM712.5 372.8h1.30v1.29h-1.30zM668.2 374.3h1.30v1.29h-1.30zM671.3 374.3h1.30v1.29h-1.30zM674.3 374.3h1.30v1.29h-1.30zM675.8 374.3h1.30v1.29h-1.30zM678.9 374.3h1.30v1.29h-1.30zM683.5 374.3h1.30v1.29h-1.30zM692.6 374.3h1.30v1.29h-1.30zM695.7 374.3h1.30v1.29h-1.30zM697.2 374.3h1.30v1.29h-1.30zM700.3 374.3h1.30v1.29h-1.30zM704.9 374.3h1.30v1.29h-1.30zM706.4 374.3h1.30v1.29h-1.30zM711.0 374.3h1.30v1.29h-1.30zM662.1 375.8h1.30v1.29h-1.30zM663.6 375.8h1.30v1.29h-1.30zM666.7 375.8h1.30v1.29h-1.30zM668.2 375.8h1.30v1.29h-1.30zM671.3 375.8h1.30v1.29h-1.30zM672.8 375.8h1.30v1.29h-1.30zM674.3 375.8h1.30v1.29h-1.30zM675.8 375.8h1.30v1.29h-1.30zM678.9 375.8h1.30v1.29h-1.30zM685.0 375.8h1.30v1.29h-1.30zM688.1 375.8h1.30v1.29h-1.30zM689.6 375.8h1.30v1.29h-1.30zM692.6 375.8h1.30v1.29h-1.30zM694.2 375.8h1.30v1.29h-1.30zM704.9 375.8h1.30v1.29h-1.30zM706.4 375.8h1.30v1.29h-1.30zM711.0 375.8h1.30v1.29h-1.30zM663.6 377.3h1.30v1.29h-1.30zM665.1 377.3h1.30v1.29h-1.30zM666.7 377.3h1.30v1.29h-1.30zM669.7 377.3h1.30v1.29h-1.30zM672.8 377.3h1.30v1.29h-1.30zM677.4 377.3h1.30v1.29h-1.30zM680.4 377.3h1.30v1.29h-1.30zM681.9 377.3h1.30v1.29h-1.30zM683.5 377.3h1.30v1.29h-1.30zM688.1 377.3h1.30v1.29h-1.30zM692.6 377.3h1.30v1.29h-1.30zM698.7 377.3h1.30v1.29h-1.30zM709.4 377.3h1.30v1.29h-1.30zM711.0 377.3h1.30v1.29h-1.30zM657.5 378.8h1.30v1.29h-1.30zM659.0 378.8h1.30v1.29h-1.30zM660.6 378.8h1.30v1.29h-1.30zM668.2 378.8h1.30v1.29h-1.30zM671.3 378.8h1.30v1.29h-1.30zM675.8 378.8h1.30v1.29h-1.30zM677.4 378.8h1.30v1.29h-1.30zM683.5 378.8h1.30v1.29h-1.30zM685.0 378.8h1.30v1.29h-1.30zM689.6 378.8h1.30v1.29h-1.30zM692.6 378.8h1.30v1.29h-1.30zM703.3 378.8h1.30v1.29h-1.30zM704.9 378.8h1.30v1.29h-1.30zM707.9 378.8h1.30v1.29h-1.30zM659.0 380.4h1.30v1.29h-1.30zM668.2 380.4h1.30v1.29h-1.30zM669.7 380.4h1.30v1.29h-1.30zM677.4 380.4h1.30v1.29h-1.30zM680.4 380.4h1.30v1.29h-1.30zM681.9 380.4h1.30v1.29h-1.30zM689.6 380.4h1.30v1.29h-1.30zM692.6 380.4h1.30v1.29h-1.30zM694.2 380.4h1.30v1.29h-1.30zM695.7 380.4h1.30v1.29h-1.30zM697.2 380.4h1.30v1.29h-1.30zM701.8 380.4h1.30v1.29h-1.30zM704.9 380.4h1.30v1.29h-1.30zM712.5 380.4h1.30v1.29h-1.30zM660.6 381.9h1.30v1.29h-1.30zM674.3 381.9h1.30v1.29h-1.30zM677.4 381.9h1.30v1.29h-1.30zM678.9 381.9h1.30v1.29h-1.30zM680.4 381.9h1.30v1.29h-1.30zM688.1 381.9h1.30v1.29h-1.30zM694.2 381.9h1.30v1.29h-1.30zM695.7 381.9h1.30v1.29h-1.30zM703.3 381.9h1.30v1.29h-1.30zM704.9 381.9h1.30v1.29h-1.30zM657.5 383.4h1.30v1.29h-1.30zM660.6 383.4h1.30v1.29h-1.30zM683.5 383.4h1.30v1.29h-1.30zM692.6 383.4h1.30v1.29h-1.30zM698.7 383.4h1.30v1.29h-1.30zM701.8 383.4h1.30v1.29h-1.30zM703.3 383.4h1.30v1.29h-1.30zM672.8 384.9h1.30v1.29h-1.30zM675.8 384.9h1.30v1.29h-1.30zM678.9 384.9h1.30v1.29h-1.30zM683.5 384.9h1.30v1.29h-1.30zM686.5 384.9h1.30v1.29h-1.30zM688.1 384.9h1.30v1.29h-1.30zM695.7 384.9h1.30v1.29h-1.30zM697.2 384.9h1.30v1.29h-1.30zM698.7 384.9h1.30v1.29h-1.30zM703.3 384.9h1.30v1.29h-1.30zM704.9 384.9h1.30v1.29h-1.30zM659.0 386.4h1.30v1.29h-1.30zM662.1 386.4h1.30v1.29h-1.30zM663.6 386.4h1.30v1.29h-1.30zM671.3 386.4h1.30v1.29h-1.30zM675.8 386.4h1.30v1.29h-1.30zM680.4 386.4h1.30v1.29h-1.30zM681.9 386.4h1.30v1.29h-1.30zM686.5 386.4h1.30v1.29h-1.30zM689.6 386.4h1.30v1.29h-1.30zM695.7 386.4h1.30v1.29h-1.30zM700.3 386.4h1.30v1.29h-1.30zM701.8 386.4h1.30v1.29h-1.30zM703.3 386.4h1.30v1.29h-1.30zM712.5 386.4h1.30v1.29h-1.30zM669.7 388.0h1.30v1.29h-1.30zM672.8 388.0h1.30v1.29h-1.30zM674.3 388.0h1.30v1.29h-1.30zM677.4 388.0h1.30v1.29h-1.30zM678.9 388.0h1.30v1.29h-1.30zM680.4 388.0h1.30v1.29h-1.30zM683.5 388.0h1.30v1.29h-1.30zM686.5 388.0h1.30v1.29h-1.30zM691.1 388.0h1.30v1.29h-1.30zM694.2 388.0h1.30v1.29h-1.30zM701.8 388.0h1.30v1.29h-1.30zM703.3 388.0h1.30v1.29h-1.30zM706.4 388.0h1.30v1.29h-1.30zM712.5 388.0h1.30v1.29h-1.30zM669.7 389.5h1.30v1.29h-1.30zM672.8 389.5h1.30v1.29h-1.30zM675.8 389.5h1.30v1.29h-1.30zM680.4 389.5h1.30v1.29h-1.30zM681.9 389.5h1.30v1.29h-1.30zM683.5 389.5h1.30v1.29h-1.30zM686.5 389.5h1.30v1.29h-1.30zM688.1 389.5h1.30v1.29h-1.30zM697.2 389.5h1.30v1.29h-1.30zM700.3 389.5h1.30v1.29h-1.30zM701.8 389.5h1.30v1.29h-1.30zM703.3 389.5h1.30v1.29h-1.30zM669.7 391.0h1.30v1.29h-1.30zM674.3 391.0h1.30v1.29h-1.30zM677.4 391.0h1.30v1.29h-1.30zM678.9 391.0h1.30v1.29h-1.30zM686.5 391.0h1.30v1.29h-1.30zM694.2 391.0h1.30v1.29h-1.30zM695.7 391.0h1.30v1.29h-1.30zM700.3 391.0h1.30v1.29h-1.30zM704.9 391.0h1.30v1.29h-1.30zM707.9 391.0h1.30v1.29h-1.30zM709.4 391.0h1.30v1.29h-1.30zM671.3 392.5h1.30v1.29h-1.30zM677.4 392.5h1.30v1.29h-1.30zM678.9 392.5h1.30v1.29h-1.30zM680.4 392.5h1.30v1.29h-1.30zM681.9 392.5h1.30v1.29h-1.30zM689.6 392.5h1.30v1.29h-1.30zM694.2 392.5h1.30v1.29h-1.30zM695.7 392.5h1.30v1.29h-1.30zM700.3 392.5h1.30v1.29h-1.30zM703.3 392.5h1.30v1.29h-1.30zM707.9 392.5h1.30v1.29h-1.30zM709.4 392.5h1.30v1.29h-1.30zM669.7 394.0h1.30v1.29h-1.30zM674.3 394.0h1.30v1.29h-1.30zM681.9 394.0h1.30v1.29h-1.30zM685.0 394.0h1.30v1.29h-1.30zM689.6 394.0h1.30v1.29h-1.30zM691.1 394.0h1.30v1.29h-1.30zM692.6 394.0h1.30v1.29h-1.30zM694.2 394.0h1.30v1.29h-1.30zM698.7 394.0h1.30v1.29h-1.30zM701.8 394.0h1.30v1.29h-1.30zM703.3 394.0h1.30v1.29h-1.30zM704.9 394.0h1.30v1.29h-1.30zM711.0 394.0h1.30v1.29h-1.30zM712.5 394.0h1.30v1.29h-1.30zM669.7 395.6h1.30v1.29h-1.30zM671.3 395.6h1.30v1.29h-1.30zM674.3 395.6h1.30v1.29h-1.30zM680.4 395.6h1.30v1.29h-1.30zM681.9 395.6h1.30v1.29h-1.30zM685.0 395.6h1.30v1.29h-1.30zM686.5 395.6h1.30v1.29h-1.30zM688.1 395.6h1.30v1.29h-1.30zM689.6 395.6h1.30v1.29h-1.30zM691.1 395.6h1.30v1.29h-1.30zM692.6 395.6h1.30v1.29h-1.30zM694.2 395.6h1.30v1.29h-1.30zM698.7 395.6h1.30v1.29h-1.30zM707.9 395.6h1.30v1.29h-1.30zM711.0 395.6h1.30v1.29h-1.30zM672.8 397.1h1.30v1.29h-1.30zM674.3 397.1h1.30v1.29h-1.30zM675.8 397.1h1.30v1.29h-1.30zM681.9 397.1h1.30v1.29h-1.30zM689.6 397.1h1.30v1.29h-1.30zM691.1 397.1h1.30v1.29h-1.30zM704.9 397.1h1.30v1.29h-1.30zM706.4 397.1h1.30v1.29h-1.30zM709.4 397.1h1.30v1.29h-1.30zM671.3 398.6h1.30v1.29h-1.30zM674.3 398.6h1.30v1.29h-1.30zM680.4 398.6h1.30v1.29h-1.30zM694.2 398.6h1.30v1.29h-1.30zM695.7 398.6h1.30v1.29h-1.30zM697.2 398.6h1.30v1.29h-1.30zM698.7 398.6h1.30v1.29h-1.30zM704.9 398.6h1.30v1.29h-1.30zM707.9 398.6h1.30v1.29h-1.30zM709.4 398.6h1.30v1.29h-1.30zM711.0 398.6h1.30v1.29h-1.30z" fill="#1a1a1a"/><rect x="658.32" y="344.71" width="8.86" height="8.81" rx="2.75" fill="none" stroke="#111" stroke-width="1.83"/><rect x="660.45" y="346.84" width="4.58" height="4.56" rx="1.53" fill="#111"/><rect x="704.13" y="344.71" width="8.86" height="8.81" rx="2.75" fill="none" stroke="#111" stroke-width="1.83"/><rect x="706.26" y="346.84" width="4.58" height="4.56" rx="1.53" fill="#111"/><rect x="658.32" y="390.28" width="8.86" height="8.81" rx="2.75" fill="none" stroke="#111" stroke-width="1.83"/><rect x="660.45" y="392.41" width="4.58" height="4.56" rx="1.53" fill="#111"/><rect x="649.70" y="533.70" width="70.00" height="69.50" rx="8.5" fill="#fff" stroke="#a3218e" stroke-width="2"/><path d="M668.7 540.0h1.35v1.32h-1.35zM671.9 540.0h1.35v1.32h-1.35zM676.6 540.0h1.35v1.32h-1.35zM678.2 540.0h1.35v1.32h-1.35zM681.4 540.0h1.35v1.32h-1.35zM683.0 540.0h1.35v1.32h-1.35zM692.5 540.0h1.35v1.32h-1.35zM668.7 541.6h1.35v1.32h-1.35zM673.5 541.6h1.35v1.32h-1.35zM675.1 541.6h1.35v1.32h-1.35zM686.2 541.6h1.35v1.32h-1.35zM694.1 541.6h1.35v1.32h-1.35zM695.7 541.6h1.35v1.32h-1.35zM697.3 541.6h1.35v1.32h-1.35zM670.3 543.1h1.35v1.32h-1.35zM673.5 543.1h1.35v1.32h-1.35zM675.1 543.1h1.35v1.32h-1.35zM689.3 543.1h1.35v1.32h-1.35zM698.9 543.1h1.35v1.32h-1.35zM670.3 544.7h1.35v1.32h-1.35zM671.9 544.7h1.35v1.32h-1.35zM676.6 544.7h1.35v1.32h-1.35zM681.4 544.7h1.35v1.32h-1.35zM683.0 544.7h1.35v1.32h-1.35zM687.7 544.7h1.35v1.32h-1.35zM690.9 544.7h1.35v1.32h-1.35zM694.1 544.7h1.35v1.32h-1.35zM668.7 546.2h1.35v1.32h-1.35zM670.3 546.2h1.35v1.32h-1.35zM673.5 546.2h1.35v1.32h-1.35zM675.1 546.2h1.35v1.32h-1.35zM679.8 546.2h1.35v1.32h-1.35zM681.4 546.2h1.35v1.32h-1.35zM684.6 546.2h1.35v1.32h-1.35zM689.3 546.2h1.35v1.32h-1.35zM673.5 547.8h1.35v1.32h-1.35zM675.1 547.8h1.35v1.32h-1.35zM681.4 547.8h1.35v1.32h-1.35zM686.2 547.8h1.35v1.32h-1.35zM690.9 547.8h1.35v1.32h-1.35zM697.3 547.8h1.35v1.32h-1.35zM668.7 549.3h1.35v1.32h-1.35zM670.3 549.3h1.35v1.32h-1.35zM675.1 549.3h1.35v1.32h-1.35zM679.8 549.3h1.35v1.32h-1.35zM681.4 549.3h1.35v1.32h-1.35zM683.0 549.3h1.35v1.32h-1.35zM684.6 549.3h1.35v1.32h-1.35zM687.7 549.3h1.35v1.32h-1.35zM689.3 549.3h1.35v1.32h-1.35zM692.5 549.3h1.35v1.32h-1.35zM697.3 549.3h1.35v1.32h-1.35zM698.9 549.3h1.35v1.32h-1.35zM668.7 550.9h1.35v1.32h-1.35zM670.3 550.9h1.35v1.32h-1.35zM675.1 550.9h1.35v1.32h-1.35zM676.6 550.9h1.35v1.32h-1.35zM678.2 550.9h1.35v1.32h-1.35zM684.6 550.9h1.35v1.32h-1.35zM686.2 550.9h1.35v1.32h-1.35zM692.5 550.9h1.35v1.32h-1.35zM694.1 550.9h1.35v1.32h-1.35zM697.3 550.9h1.35v1.32h-1.35zM656.0 552.4h1.35v1.32h-1.35zM657.6 552.4h1.35v1.32h-1.35zM664.0 552.4h1.35v1.32h-1.35zM665.5 552.4h1.35v1.32h-1.35zM667.1 552.4h1.35v1.32h-1.35zM670.3 552.4h1.35v1.32h-1.35zM671.9 552.4h1.35v1.32h-1.35zM679.8 552.4h1.35v1.32h-1.35zM681.4 552.4h1.35v1.32h-1.35zM692.5 552.4h1.35v1.32h-1.35zM700.4 552.4h1.35v1.32h-1.35zM702.0 552.4h1.35v1.32h-1.35zM703.6 552.4h1.35v1.32h-1.35zM705.2 552.4h1.35v1.32h-1.35zM708.4 552.4h1.35v1.32h-1.35zM711.5 552.4h1.35v1.32h-1.35zM664.0 554.0h1.35v1.32h-1.35zM667.1 554.0h1.35v1.32h-1.35zM668.7 554.0h1.35v1.32h-1.35zM678.2 554.0h1.35v1.32h-1.35zM679.8 554.0h1.35v1.32h-1.35zM686.2 554.0h1.35v1.32h-1.35zM687.7 554.0h1.35v1.32h-1.35zM692.5 554.0h1.35v1.32h-1.35zM700.4 554.0h1.35v1.32h-1.35zM705.2 554.0h1.35v1.32h-1.35zM706.8 554.0h1.35v1.32h-1.35zM708.4 554.0h1.35v1.32h-1.35zM657.6 555.5h1.35v1.32h-1.35zM659.2 555.5h1.35v1.32h-1.35zM660.8 555.5h1.35v1.32h-1.35zM662.4 555.5h1.35v1.32h-1.35zM664.0 555.5h1.35v1.32h-1.35zM668.7 555.5h1.35v1.32h-1.35zM671.9 555.5h1.35v1.32h-1.35zM673.5 555.5h1.35v1.32h-1.35zM675.1 555.5h1.35v1.32h-1.35zM679.8 555.5h1.35v1.32h-1.35zM681.4 555.5h1.35v1.32h-1.35zM683.0 555.5h1.35v1.32h-1.35zM684.6 555.5h1.35v1.32h-1.35zM689.3 555.5h1.35v1.32h-1.35zM690.9 555.5h1.35v1.32h-1.35zM692.5 555.5h1.35v1.32h-1.35zM694.1 555.5h1.35v1.32h-1.35zM698.9 555.5h1.35v1.32h-1.35zM705.2 555.5h1.35v1.32h-1.35zM656.0 557.1h1.35v1.32h-1.35zM660.8 557.1h1.35v1.32h-1.35zM668.7 557.1h1.35v1.32h-1.35zM673.5 557.1h1.35v1.32h-1.35zM676.6 557.1h1.35v1.32h-1.35zM689.3 557.1h1.35v1.32h-1.35zM692.5 557.1h1.35v1.32h-1.35zM694.1 557.1h1.35v1.32h-1.35zM697.3 557.1h1.35v1.32h-1.35zM698.9 557.1h1.35v1.32h-1.35zM700.4 557.1h1.35v1.32h-1.35zM703.6 557.1h1.35v1.32h-1.35zM705.2 557.1h1.35v1.32h-1.35zM708.4 557.1h1.35v1.32h-1.35zM660.8 558.6h1.35v1.32h-1.35zM667.1 558.6h1.35v1.32h-1.35zM671.9 558.6h1.35v1.32h-1.35zM673.5 558.6h1.35v1.32h-1.35zM678.2 558.6h1.35v1.32h-1.35zM679.8 558.6h1.35v1.32h-1.35zM681.4 558.6h1.35v1.32h-1.35zM686.2 558.6h1.35v1.32h-1.35zM687.7 558.6h1.35v1.32h-1.35zM689.3 558.6h1.35v1.32h-1.35zM690.9 558.6h1.35v1.32h-1.35zM694.1 558.6h1.35v1.32h-1.35zM702.0 558.6h1.35v1.32h-1.35zM656.0 560.2h1.35v1.32h-1.35zM657.6 560.2h1.35v1.32h-1.35zM667.1 560.2h1.35v1.32h-1.35zM668.7 560.2h1.35v1.32h-1.35zM670.3 560.2h1.35v1.32h-1.35zM673.5 560.2h1.35v1.32h-1.35zM675.1 560.2h1.35v1.32h-1.35zM679.8 560.2h1.35v1.32h-1.35zM687.7 560.2h1.35v1.32h-1.35zM689.3 560.2h1.35v1.32h-1.35zM690.9 560.2h1.35v1.32h-1.35zM694.1 560.2h1.35v1.32h-1.35zM695.7 560.2h1.35v1.32h-1.35zM697.3 560.2h1.35v1.32h-1.35zM698.9 560.2h1.35v1.32h-1.35zM702.0 560.2h1.35v1.32h-1.35zM667.1 561.7h1.35v1.32h-1.35zM668.7 561.7h1.35v1.32h-1.35zM676.6 561.7h1.35v1.32h-1.35zM678.2 561.7h1.35v1.32h-1.35zM679.8 561.7h1.35v1.32h-1.35zM681.4 561.7h1.35v1.32h-1.35zM687.7 561.7h1.35v1.32h-1.35zM690.9 561.7h1.35v1.32h-1.35zM695.7 561.7h1.35v1.32h-1.35zM697.3 561.7h1.35v1.32h-1.35zM700.4 561.7h1.35v1.32h-1.35zM702.0 561.7h1.35v1.32h-1.35zM706.8 561.7h1.35v1.32h-1.35zM708.4 561.7h1.35v1.32h-1.35zM713.1 561.7h1.35v1.32h-1.35zM659.2 563.3h1.35v1.32h-1.35zM662.4 563.3h1.35v1.32h-1.35zM664.0 563.3h1.35v1.32h-1.35zM667.1 563.3h1.35v1.32h-1.35zM671.9 563.3h1.35v1.32h-1.35zM675.1 563.3h1.35v1.32h-1.35zM679.8 563.3h1.35v1.32h-1.35zM686.2 563.3h1.35v1.32h-1.35zM694.1 563.3h1.35v1.32h-1.35zM697.3 563.3h1.35v1.32h-1.35zM703.6 563.3h1.35v1.32h-1.35zM708.4 563.3h1.35v1.32h-1.35zM713.1 563.3h1.35v1.32h-1.35zM657.6 564.8h1.35v1.32h-1.35zM659.2 564.8h1.35v1.32h-1.35zM668.7 564.8h1.35v1.32h-1.35zM670.3 564.8h1.35v1.32h-1.35zM671.9 564.8h1.35v1.32h-1.35zM679.8 564.8h1.35v1.32h-1.35zM681.4 564.8h1.35v1.32h-1.35zM683.0 564.8h1.35v1.32h-1.35zM686.2 564.8h1.35v1.32h-1.35zM689.3 564.8h1.35v1.32h-1.35zM692.5 564.8h1.35v1.32h-1.35zM694.1 564.8h1.35v1.32h-1.35zM700.4 564.8h1.35v1.32h-1.35zM703.6 564.8h1.35v1.32h-1.35zM705.2 564.8h1.35v1.32h-1.35zM706.8 564.8h1.35v1.32h-1.35zM708.4 564.8h1.35v1.32h-1.35zM713.1 564.8h1.35v1.32h-1.35zM656.0 566.4h1.35v1.32h-1.35zM665.5 566.4h1.35v1.32h-1.35zM667.1 566.4h1.35v1.32h-1.35zM668.7 566.4h1.35v1.32h-1.35zM673.5 566.4h1.35v1.32h-1.35zM675.1 566.4h1.35v1.32h-1.35zM678.2 566.4h1.35v1.32h-1.35zM684.6 566.4h1.35v1.32h-1.35zM694.1 566.4h1.35v1.32h-1.35zM702.0 566.4h1.35v1.32h-1.35zM711.5 566.4h1.35v1.32h-1.35zM656.0 567.9h1.35v1.32h-1.35zM667.1 567.9h1.35v1.32h-1.35zM671.9 567.9h1.35v1.32h-1.35zM673.5 567.9h1.35v1.32h-1.35zM675.1 567.9h1.35v1.32h-1.35zM676.6 567.9h1.35v1.32h-1.35zM681.4 567.9h1.35v1.32h-1.35zM686.2 567.9h1.35v1.32h-1.35zM695.7 567.9h1.35v1.32h-1.35zM706.8 567.9h1.35v1.32h-1.35zM708.4 567.9h1.35v1.32h-1.35zM710.0 567.9h1.35v1.32h-1.35zM711.5 567.9h1.35v1.32h-1.35zM713.1 567.9h1.35v1.32h-1.35zM664.0 569.5h1.35v1.32h-1.35zM670.3 569.5h1.35v1.32h-1.35zM675.1 569.5h1.35v1.32h-1.35zM676.6 569.5h1.35v1.32h-1.35zM681.4 569.5h1.35v1.32h-1.35zM683.0 569.5h1.35v1.32h-1.35zM684.6 569.5h1.35v1.32h-1.35zM687.7 569.5h1.35v1.32h-1.35zM690.9 569.5h1.35v1.32h-1.35zM692.5 569.5h1.35v1.32h-1.35zM694.1 569.5h1.35v1.32h-1.35zM697.3 569.5h1.35v1.32h-1.35zM698.9 569.5h1.35v1.32h-1.35zM700.4 569.5h1.35v1.32h-1.35zM702.0 569.5h1.35v1.32h-1.35zM705.2 569.5h1.35v1.32h-1.35zM706.8 569.5h1.35v1.32h-1.35zM713.1 569.5h1.35v1.32h-1.35zM657.6 571.0h1.35v1.32h-1.35zM659.2 571.0h1.35v1.32h-1.35zM662.4 571.0h1.35v1.32h-1.35zM664.0 571.0h1.35v1.32h-1.35zM667.1 571.0h1.35v1.32h-1.35zM670.3 571.0h1.35v1.32h-1.35zM671.9 571.0h1.35v1.32h-1.35zM673.5 571.0h1.35v1.32h-1.35zM676.6 571.0h1.35v1.32h-1.35zM683.0 571.0h1.35v1.32h-1.35zM684.6 571.0h1.35v1.32h-1.35zM686.2 571.0h1.35v1.32h-1.35zM690.9 571.0h1.35v1.32h-1.35zM692.5 571.0h1.35v1.32h-1.35zM698.9 571.0h1.35v1.32h-1.35zM700.4 571.0h1.35v1.32h-1.35zM702.0 571.0h1.35v1.32h-1.35zM703.6 571.0h1.35v1.32h-1.35zM705.2 571.0h1.35v1.32h-1.35zM706.8 571.0h1.35v1.32h-1.35zM711.5 571.0h1.35v1.32h-1.35zM662.4 572.6h1.35v1.32h-1.35zM664.0 572.6h1.35v1.32h-1.35zM668.7 572.6h1.35v1.32h-1.35zM670.3 572.6h1.35v1.32h-1.35zM673.5 572.6h1.35v1.32h-1.35zM675.1 572.6h1.35v1.32h-1.35zM676.6 572.6h1.35v1.32h-1.35zM681.4 572.6h1.35v1.32h-1.35zM690.9 572.6h1.35v1.32h-1.35zM694.1 572.6h1.35v1.32h-1.35zM698.9 572.6h1.35v1.32h-1.35zM700.4 572.6h1.35v1.32h-1.35zM706.8 572.6h1.35v1.32h-1.35zM710.0 572.6h1.35v1.32h-1.35zM713.1 572.6h1.35v1.32h-1.35zM660.8 574.1h1.35v1.32h-1.35zM662.4 574.1h1.35v1.32h-1.35zM675.1 574.1h1.35v1.32h-1.35zM676.6 574.1h1.35v1.32h-1.35zM678.2 574.1h1.35v1.32h-1.35zM679.8 574.1h1.35v1.32h-1.35zM683.0 574.1h1.35v1.32h-1.35zM686.2 574.1h1.35v1.32h-1.35zM687.7 574.1h1.35v1.32h-1.35zM690.9 574.1h1.35v1.32h-1.35zM692.5 574.1h1.35v1.32h-1.35zM694.1 574.1h1.35v1.32h-1.35zM698.9 574.1h1.35v1.32h-1.35zM700.4 574.1h1.35v1.32h-1.35zM703.6 574.1h1.35v1.32h-1.35zM656.0 575.7h1.35v1.32h-1.35zM657.6 575.7h1.35v1.32h-1.35zM659.2 575.7h1.35v1.32h-1.35zM662.4 575.7h1.35v1.32h-1.35zM664.0 575.7h1.35v1.32h-1.35zM667.1 575.7h1.35v1.32h-1.35zM670.3 575.7h1.35v1.32h-1.35zM673.5 575.7h1.35v1.32h-1.35zM683.0 575.7h1.35v1.32h-1.35zM687.7 575.7h1.35v1.32h-1.35zM694.1 575.7h1.35v1.32h-1.35zM700.4 575.7h1.35v1.32h-1.35zM702.0 575.7h1.35v1.32h-1.35zM705.2 575.7h1.35v1.32h-1.35zM656.0 577.2h1.35v1.32h-1.35zM657.6 577.2h1.35v1.32h-1.35zM660.8 577.2h1.35v1.32h-1.35zM664.0 577.2h1.35v1.32h-1.35zM665.5 577.2h1.35v1.32h-1.35zM667.1 577.2h1.35v1.32h-1.35zM694.1 577.2h1.35v1.32h-1.35zM697.3 577.2h1.35v1.32h-1.35zM698.9 577.2h1.35v1.32h-1.35zM702.0 577.2h1.35v1.32h-1.35zM706.8 577.2h1.35v1.32h-1.35zM710.0 577.2h1.35v1.32h-1.35zM713.1 577.2h1.35v1.32h-1.35zM659.2 578.8h1.35v1.32h-1.35zM660.8 578.8h1.35v1.32h-1.35zM662.4 578.8h1.35v1.32h-1.35zM665.5 578.8h1.35v1.32h-1.35zM667.1 578.8h1.35v1.32h-1.35zM676.6 578.8h1.35v1.32h-1.35zM678.2 578.8h1.35v1.32h-1.35zM679.8 578.8h1.35v1.32h-1.35zM686.2 578.8h1.35v1.32h-1.35zM689.3 578.8h1.35v1.32h-1.35zM695.7 578.8h1.35v1.32h-1.35zM697.3 578.8h1.35v1.32h-1.35zM700.4 578.8h1.35v1.32h-1.35zM702.0 578.8h1.35v1.32h-1.35zM706.8 578.8h1.35v1.32h-1.35zM708.4 578.8h1.35v1.32h-1.35zM710.0 578.8h1.35v1.32h-1.35zM660.8 580.4h1.35v1.32h-1.35zM662.4 580.4h1.35v1.32h-1.35zM664.0 580.4h1.35v1.32h-1.35zM667.1 580.4h1.35v1.32h-1.35zM668.7 580.4h1.35v1.32h-1.35zM671.9 580.4h1.35v1.32h-1.35zM673.5 580.4h1.35v1.32h-1.35zM675.1 580.4h1.35v1.32h-1.35zM679.8 580.4h1.35v1.32h-1.35zM681.4 580.4h1.35v1.32h-1.35zM690.9 580.4h1.35v1.32h-1.35zM692.5 580.4h1.35v1.32h-1.35zM702.0 580.4h1.35v1.32h-1.35zM703.6 580.4h1.35v1.32h-1.35zM705.2 580.4h1.35v1.32h-1.35zM664.0 581.9h1.35v1.32h-1.35zM665.5 581.9h1.35v1.32h-1.35zM673.5 581.9h1.35v1.32h-1.35zM681.4 581.9h1.35v1.32h-1.35zM683.0 581.9h1.35v1.32h-1.35zM694.1 581.9h1.35v1.32h-1.35zM700.4 581.9h1.35v1.32h-1.35zM705.2 581.9h1.35v1.32h-1.35zM708.4 581.9h1.35v1.32h-1.35zM657.6 583.5h1.35v1.32h-1.35zM660.8 583.5h1.35v1.32h-1.35zM662.4 583.5h1.35v1.32h-1.35zM665.5 583.5h1.35v1.32h-1.35zM667.1 583.5h1.35v1.32h-1.35zM671.9 583.5h1.35v1.32h-1.35zM673.5 583.5h1.35v1.32h-1.35zM675.1 583.5h1.35v1.32h-1.35zM676.6 583.5h1.35v1.32h-1.35zM678.2 583.5h1.35v1.32h-1.35zM681.4 583.5h1.35v1.32h-1.35zM683.0 583.5h1.35v1.32h-1.35zM684.6 583.5h1.35v1.32h-1.35zM686.2 583.5h1.35v1.32h-1.35zM695.7 583.5h1.35v1.32h-1.35zM697.3 583.5h1.35v1.32h-1.35zM700.4 583.5h1.35v1.32h-1.35zM702.0 583.5h1.35v1.32h-1.35zM705.2 583.5h1.35v1.32h-1.35zM708.4 583.5h1.35v1.32h-1.35zM710.0 583.5h1.35v1.32h-1.35zM713.1 583.5h1.35v1.32h-1.35zM670.3 585.0h1.35v1.32h-1.35zM676.6 585.0h1.35v1.32h-1.35zM678.2 585.0h1.35v1.32h-1.35zM681.4 585.0h1.35v1.32h-1.35zM683.0 585.0h1.35v1.32h-1.35zM687.7 585.0h1.35v1.32h-1.35zM692.5 585.0h1.35v1.32h-1.35zM694.1 585.0h1.35v1.32h-1.35zM695.7 585.0h1.35v1.32h-1.35zM698.9 585.0h1.35v1.32h-1.35zM700.4 585.0h1.35v1.32h-1.35zM702.0 585.0h1.35v1.32h-1.35zM703.6 585.0h1.35v1.32h-1.35zM705.2 585.0h1.35v1.32h-1.35zM708.4 585.0h1.35v1.32h-1.35zM710.0 585.0h1.35v1.32h-1.35zM670.3 586.6h1.35v1.32h-1.35zM671.9 586.6h1.35v1.32h-1.35zM678.2 586.6h1.35v1.32h-1.35zM679.8 586.6h1.35v1.32h-1.35zM681.4 586.6h1.35v1.32h-1.35zM695.7 586.6h1.35v1.32h-1.35zM702.0 586.6h1.35v1.32h-1.35zM706.8 586.6h1.35v1.32h-1.35zM708.4 586.6h1.35v1.32h-1.35zM710.0 586.6h1.35v1.32h-1.35zM711.5 586.6h1.35v1.32h-1.35zM671.9 588.1h1.35v1.32h-1.35zM673.5 588.1h1.35v1.32h-1.35zM684.6 588.1h1.35v1.32h-1.35zM689.3 588.1h1.35v1.32h-1.35zM692.5 588.1h1.35v1.32h-1.35zM695.7 588.1h1.35v1.32h-1.35zM697.3 588.1h1.35v1.32h-1.35zM698.9 588.1h1.35v1.32h-1.35zM708.4 588.1h1.35v1.32h-1.35zM711.5 588.1h1.35v1.32h-1.35zM713.1 588.1h1.35v1.32h-1.35zM671.9 589.7h1.35v1.32h-1.35zM675.1 589.7h1.35v1.32h-1.35zM690.9 589.7h1.35v1.32h-1.35zM697.3 589.7h1.35v1.32h-1.35zM700.4 589.7h1.35v1.32h-1.35zM703.6 589.7h1.35v1.32h-1.35zM705.2 589.7h1.35v1.32h-1.35zM668.7 591.2h1.35v1.32h-1.35zM670.3 591.2h1.35v1.32h-1.35zM673.5 591.2h1.35v1.32h-1.35zM675.1 591.2h1.35v1.32h-1.35zM681.4 591.2h1.35v1.32h-1.35zM683.0 591.2h1.35v1.32h-1.35zM684.6 591.2h1.35v1.32h-1.35zM687.7 591.2h1.35v1.32h-1.35zM689.3 591.2h1.35v1.32h-1.35zM690.9 591.2h1.35v1.32h-1.35zM692.5 591.2h1.35v1.32h-1.35zM694.1 591.2h1.35v1.32h-1.35zM710.0 591.2h1.35v1.32h-1.35zM713.1 591.2h1.35v1.32h-1.35zM671.9 592.8h1.35v1.32h-1.35zM673.5 592.8h1.35v1.32h-1.35zM678.2 592.8h1.35v1.32h-1.35zM679.8 592.8h1.35v1.32h-1.35zM681.4 592.8h1.35v1.32h-1.35zM683.0 592.8h1.35v1.32h-1.35zM686.2 592.8h1.35v1.32h-1.35zM687.7 592.8h1.35v1.32h-1.35zM689.3 592.8h1.35v1.32h-1.35zM698.9 592.8h1.35v1.32h-1.35zM703.6 592.8h1.35v1.32h-1.35zM710.0 592.8h1.35v1.32h-1.35zM711.5 592.8h1.35v1.32h-1.35zM673.5 594.3h1.35v1.32h-1.35zM679.8 594.3h1.35v1.32h-1.35zM681.4 594.3h1.35v1.32h-1.35zM683.0 594.3h1.35v1.32h-1.35zM686.2 594.3h1.35v1.32h-1.35zM692.5 594.3h1.35v1.32h-1.35zM694.1 594.3h1.35v1.32h-1.35zM700.4 594.3h1.35v1.32h-1.35zM706.8 594.3h1.35v1.32h-1.35zM708.4 594.3h1.35v1.32h-1.35zM711.5 594.3h1.35v1.32h-1.35zM670.3 595.9h1.35v1.32h-1.35zM678.2 595.9h1.35v1.32h-1.35zM679.8 595.9h1.35v1.32h-1.35zM683.0 595.9h1.35v1.32h-1.35zM684.6 595.9h1.35v1.32h-1.35zM687.7 595.9h1.35v1.32h-1.35zM692.5 595.9h1.35v1.32h-1.35zM695.7 595.9h1.35v1.32h-1.35zM697.3 595.9h1.35v1.32h-1.35zM698.9 595.9h1.35v1.32h-1.35zM700.4 595.9h1.35v1.32h-1.35zM703.6 595.9h1.35v1.32h-1.35zM708.4 595.9h1.35v1.32h-1.35zM711.5 595.9h1.35v1.32h-1.35zM713.1 595.9h1.35v1.32h-1.35z" fill="#1a1a1a"/><rect x="656.85" y="540.83" width="9.20" height="9.00" rx="2.86" fill="none" stroke="#111" stroke-width="1.90"/><rect x="659.07" y="543.00" width="4.76" height="4.65" rx="1.59" fill="#111"/><rect x="704.45" y="540.83" width="9.20" height="9.00" rx="2.86" fill="none" stroke="#111" stroke-width="1.90"/><rect x="706.67" y="543.00" width="4.76" height="4.65" rx="1.59" fill="#111"/><rect x="656.85" y="587.37" width="9.20" height="9.00" rx="2.86" fill="none" stroke="#111" stroke-width="1.90"/><rect x="659.07" y="589.54" width="4.76" height="4.65" rx="1.59" fill="#111"/><rect x="854.50" y="345.50" width="69.90" height="69.90" rx="8.5" fill="#fff" stroke="#f7941d" stroke-width="2"/><path d="M872.6 351.0h1.38v1.37h-1.38zM874.2 351.0h1.38v1.37h-1.38zM875.8 351.0h1.38v1.37h-1.38zM877.5 351.0h1.38v1.37h-1.38zM879.1 351.0h1.38v1.37h-1.38zM887.2 351.0h1.38v1.37h-1.38zM890.4 351.0h1.38v1.37h-1.38zM892.1 351.0h1.38v1.37h-1.38zM893.7 351.0h1.38v1.37h-1.38zM895.3 351.0h1.38v1.37h-1.38zM903.4 351.0h1.38v1.37h-1.38zM905.0 351.0h1.38v1.37h-1.38zM879.1 352.6h1.38v1.37h-1.38zM885.6 352.6h1.38v1.37h-1.38zM888.8 352.6h1.38v1.37h-1.38zM895.3 352.6h1.38v1.37h-1.38zM875.8 354.2h1.38v1.37h-1.38zM877.5 354.2h1.38v1.37h-1.38zM880.7 354.2h1.38v1.37h-1.38zM882.3 354.2h1.38v1.37h-1.38zM885.6 354.2h1.38v1.37h-1.38zM890.4 354.2h1.38v1.37h-1.38zM893.7 354.2h1.38v1.37h-1.38zM896.9 354.2h1.38v1.37h-1.38zM900.2 354.2h1.38v1.37h-1.38zM901.8 354.2h1.38v1.37h-1.38zM905.0 354.2h1.38v1.37h-1.38zM875.8 355.9h1.38v1.37h-1.38zM877.5 355.9h1.38v1.37h-1.38zM879.1 355.9h1.38v1.37h-1.38zM883.9 355.9h1.38v1.37h-1.38zM885.6 355.9h1.38v1.37h-1.38zM887.2 355.9h1.38v1.37h-1.38zM890.4 355.9h1.38v1.37h-1.38zM900.2 355.9h1.38v1.37h-1.38zM901.8 355.9h1.38v1.37h-1.38zM879.1 357.5h1.38v1.37h-1.38zM880.7 357.5h1.38v1.37h-1.38zM883.9 357.5h1.38v1.37h-1.38zM885.6 357.5h1.38v1.37h-1.38zM888.8 357.5h1.38v1.37h-1.38zM890.4 357.5h1.38v1.37h-1.38zM892.1 357.5h1.38v1.37h-1.38zM893.7 357.5h1.38v1.37h-1.38zM896.9 357.5h1.38v1.37h-1.38zM898.5 357.5h1.38v1.37h-1.38zM900.2 357.5h1.38v1.37h-1.38zM905.0 357.5h1.38v1.37h-1.38zM872.6 359.1h1.38v1.37h-1.38zM874.2 359.1h1.38v1.37h-1.38zM875.8 359.1h1.38v1.37h-1.38zM879.1 359.1h1.38v1.37h-1.38zM880.7 359.1h1.38v1.37h-1.38zM883.9 359.1h1.38v1.37h-1.38zM887.2 359.1h1.38v1.37h-1.38zM896.9 359.1h1.38v1.37h-1.38zM900.2 359.1h1.38v1.37h-1.38zM903.4 359.1h1.38v1.37h-1.38zM875.8 360.7h1.38v1.37h-1.38zM877.5 360.7h1.38v1.37h-1.38zM879.1 360.7h1.38v1.37h-1.38zM880.7 360.7h1.38v1.37h-1.38zM882.3 360.7h1.38v1.37h-1.38zM885.6 360.7h1.38v1.37h-1.38zM887.2 360.7h1.38v1.37h-1.38zM903.4 360.7h1.38v1.37h-1.38zM905.0 360.7h1.38v1.37h-1.38zM877.5 362.3h1.38v1.37h-1.38zM890.4 362.3h1.38v1.37h-1.38zM895.3 362.3h1.38v1.37h-1.38zM901.8 362.3h1.38v1.37h-1.38zM905.0 362.3h1.38v1.37h-1.38zM862.9 363.9h1.38v1.37h-1.38zM864.5 363.9h1.38v1.37h-1.38zM872.6 363.9h1.38v1.37h-1.38zM874.2 363.9h1.38v1.37h-1.38zM877.5 363.9h1.38v1.37h-1.38zM880.7 363.9h1.38v1.37h-1.38zM890.4 363.9h1.38v1.37h-1.38zM893.7 363.9h1.38v1.37h-1.38zM901.8 363.9h1.38v1.37h-1.38zM903.4 363.9h1.38v1.37h-1.38zM911.5 363.9h1.38v1.37h-1.38zM913.1 363.9h1.38v1.37h-1.38zM918.0 363.9h1.38v1.37h-1.38zM862.9 365.5h1.38v1.37h-1.38zM866.1 365.5h1.38v1.37h-1.38zM869.4 365.5h1.38v1.37h-1.38zM871.0 365.5h1.38v1.37h-1.38zM875.8 365.5h1.38v1.37h-1.38zM877.5 365.5h1.38v1.37h-1.38zM888.8 365.5h1.38v1.37h-1.38zM892.1 365.5h1.38v1.37h-1.38zM893.7 365.5h1.38v1.37h-1.38zM900.2 365.5h1.38v1.37h-1.38zM903.4 365.5h1.38v1.37h-1.38zM905.0 365.5h1.38v1.37h-1.38zM908.3 365.5h1.38v1.37h-1.38zM914.8 365.5h1.38v1.37h-1.38zM916.4 365.5h1.38v1.37h-1.38zM864.5 367.1h1.38v1.37h-1.38zM866.1 367.1h1.38v1.37h-1.38zM869.4 367.1h1.38v1.37h-1.38zM879.1 367.1h1.38v1.37h-1.38zM885.6 367.1h1.38v1.37h-1.38zM893.7 367.1h1.38v1.37h-1.38zM896.9 367.1h1.38v1.37h-1.38zM900.2 367.1h1.38v1.37h-1.38zM901.8 367.1h1.38v1.37h-1.38zM903.4 367.1h1.38v1.37h-1.38zM906.6 367.1h1.38v1.37h-1.38zM909.9 367.1h1.38v1.37h-1.38zM913.1 367.1h1.38v1.37h-1.38zM916.4 367.1h1.38v1.37h-1.38zM861.2 368.7h1.38v1.37h-1.38zM864.5 368.7h1.38v1.37h-1.38zM866.1 368.7h1.38v1.37h-1.38zM867.7 368.7h1.38v1.37h-1.38zM869.4 368.7h1.38v1.37h-1.38zM879.1 368.7h1.38v1.37h-1.38zM890.4 368.7h1.38v1.37h-1.38zM900.2 368.7h1.38v1.37h-1.38zM909.9 368.7h1.38v1.37h-1.38zM911.5 368.7h1.38v1.37h-1.38zM913.1 368.7h1.38v1.37h-1.38zM864.5 370.4h1.38v1.37h-1.38zM867.7 370.4h1.38v1.37h-1.38zM869.4 370.4h1.38v1.37h-1.38zM875.8 370.4h1.38v1.37h-1.38zM880.7 370.4h1.38v1.37h-1.38zM882.3 370.4h1.38v1.37h-1.38zM890.4 370.4h1.38v1.37h-1.38zM892.1 370.4h1.38v1.37h-1.38zM893.7 370.4h1.38v1.37h-1.38zM895.3 370.4h1.38v1.37h-1.38zM901.8 370.4h1.38v1.37h-1.38zM903.4 370.4h1.38v1.37h-1.38zM905.0 370.4h1.38v1.37h-1.38zM908.3 370.4h1.38v1.37h-1.38zM916.4 370.4h1.38v1.37h-1.38zM859.6 372.0h1.38v1.37h-1.38zM861.2 372.0h1.38v1.37h-1.38zM862.9 372.0h1.38v1.37h-1.38zM864.5 372.0h1.38v1.37h-1.38zM866.1 372.0h1.38v1.37h-1.38zM867.7 372.0h1.38v1.37h-1.38zM871.0 372.0h1.38v1.37h-1.38zM892.1 372.0h1.38v1.37h-1.38zM896.9 372.0h1.38v1.37h-1.38zM898.5 372.0h1.38v1.37h-1.38zM901.8 372.0h1.38v1.37h-1.38zM903.4 372.0h1.38v1.37h-1.38zM908.3 372.0h1.38v1.37h-1.38zM909.9 372.0h1.38v1.37h-1.38zM913.1 372.0h1.38v1.37h-1.38zM916.4 372.0h1.38v1.37h-1.38zM859.6 373.6h1.38v1.37h-1.38zM861.2 373.6h1.38v1.37h-1.38zM866.1 373.6h1.38v1.37h-1.38zM872.6 373.6h1.38v1.37h-1.38zM882.3 373.6h1.38v1.37h-1.38zM888.8 373.6h1.38v1.37h-1.38zM893.7 373.6h1.38v1.37h-1.38zM900.2 373.6h1.38v1.37h-1.38zM903.4 373.6h1.38v1.37h-1.38zM908.3 373.6h1.38v1.37h-1.38zM913.1 373.6h1.38v1.37h-1.38zM869.4 375.2h1.38v1.37h-1.38zM871.0 375.2h1.38v1.37h-1.38zM879.1 375.2h1.38v1.37h-1.38zM880.7 375.2h1.38v1.37h-1.38zM882.3 375.2h1.38v1.37h-1.38zM888.8 375.2h1.38v1.37h-1.38zM895.3 375.2h1.38v1.37h-1.38zM901.8 375.2h1.38v1.37h-1.38zM905.0 375.2h1.38v1.37h-1.38zM908.3 375.2h1.38v1.37h-1.38zM909.9 375.2h1.38v1.37h-1.38zM916.4 375.2h1.38v1.37h-1.38zM918.0 375.2h1.38v1.37h-1.38zM861.2 376.8h1.38v1.37h-1.38zM869.4 376.8h1.38v1.37h-1.38zM877.5 376.8h1.38v1.37h-1.38zM879.1 376.8h1.38v1.37h-1.38zM883.9 376.8h1.38v1.37h-1.38zM892.1 376.8h1.38v1.37h-1.38zM895.3 376.8h1.38v1.37h-1.38zM898.5 376.8h1.38v1.37h-1.38zM900.2 376.8h1.38v1.37h-1.38zM901.8 376.8h1.38v1.37h-1.38zM905.0 376.8h1.38v1.37h-1.38zM908.3 376.8h1.38v1.37h-1.38zM911.5 376.8h1.38v1.37h-1.38zM913.1 376.8h1.38v1.37h-1.38zM914.8 376.8h1.38v1.37h-1.38zM862.9 378.4h1.38v1.37h-1.38zM864.5 378.4h1.38v1.37h-1.38zM869.4 378.4h1.38v1.37h-1.38zM871.0 378.4h1.38v1.37h-1.38zM874.2 378.4h1.38v1.37h-1.38zM877.5 378.4h1.38v1.37h-1.38zM883.9 378.4h1.38v1.37h-1.38zM887.2 378.4h1.38v1.37h-1.38zM890.4 378.4h1.38v1.37h-1.38zM893.7 378.4h1.38v1.37h-1.38zM895.3 378.4h1.38v1.37h-1.38zM896.9 378.4h1.38v1.37h-1.38zM898.5 378.4h1.38v1.37h-1.38zM900.2 378.4h1.38v1.37h-1.38zM905.0 378.4h1.38v1.37h-1.38zM908.3 378.4h1.38v1.37h-1.38zM909.9 378.4h1.38v1.37h-1.38zM918.0 378.4h1.38v1.37h-1.38zM866.1 380.0h1.38v1.37h-1.38zM867.7 380.0h1.38v1.37h-1.38zM869.4 380.0h1.38v1.37h-1.38zM875.8 380.0h1.38v1.37h-1.38zM882.3 380.0h1.38v1.37h-1.38zM883.9 380.0h1.38v1.37h-1.38zM885.6 380.0h1.38v1.37h-1.38zM887.2 380.0h1.38v1.37h-1.38zM890.4 380.0h1.38v1.37h-1.38zM893.7 380.0h1.38v1.37h-1.38zM895.3 380.0h1.38v1.37h-1.38zM900.2 380.0h1.38v1.37h-1.38zM901.8 380.0h1.38v1.37h-1.38zM905.0 380.0h1.38v1.37h-1.38zM906.6 380.0h1.38v1.37h-1.38zM908.3 380.0h1.38v1.37h-1.38zM916.4 380.0h1.38v1.37h-1.38zM918.0 380.0h1.38v1.37h-1.38zM861.2 381.6h1.38v1.37h-1.38zM862.9 381.6h1.38v1.37h-1.38zM864.5 381.6h1.38v1.37h-1.38zM867.7 381.6h1.38v1.37h-1.38zM871.0 381.6h1.38v1.37h-1.38zM872.6 381.6h1.38v1.37h-1.38zM879.1 381.6h1.38v1.37h-1.38zM880.7 381.6h1.38v1.37h-1.38zM890.4 381.6h1.38v1.37h-1.38zM898.5 381.6h1.38v1.37h-1.38zM903.4 381.6h1.38v1.37h-1.38zM905.0 381.6h1.38v1.37h-1.38zM906.6 381.6h1.38v1.37h-1.38zM908.3 381.6h1.38v1.37h-1.38zM911.5 381.6h1.38v1.37h-1.38zM914.8 381.6h1.38v1.37h-1.38zM916.4 381.6h1.38v1.37h-1.38zM864.5 383.2h1.38v1.37h-1.38zM866.1 383.2h1.38v1.37h-1.38zM871.0 383.2h1.38v1.37h-1.38zM874.2 383.2h1.38v1.37h-1.38zM877.5 383.2h1.38v1.37h-1.38zM883.9 383.2h1.38v1.37h-1.38zM888.8 383.2h1.38v1.37h-1.38zM893.7 383.2h1.38v1.37h-1.38zM901.8 383.2h1.38v1.37h-1.38zM903.4 383.2h1.38v1.37h-1.38zM908.3 383.2h1.38v1.37h-1.38zM911.5 383.2h1.38v1.37h-1.38zM918.0 383.2h1.38v1.37h-1.38zM861.2 384.8h1.38v1.37h-1.38zM867.7 384.8h1.38v1.37h-1.38zM871.0 384.8h1.38v1.37h-1.38zM875.8 384.8h1.38v1.37h-1.38zM882.3 384.8h1.38v1.37h-1.38zM888.8 384.8h1.38v1.37h-1.38zM890.4 384.8h1.38v1.37h-1.38zM892.1 384.8h1.38v1.37h-1.38zM896.9 384.8h1.38v1.37h-1.38zM908.3 384.8h1.38v1.37h-1.38zM911.5 384.8h1.38v1.37h-1.38zM913.1 384.8h1.38v1.37h-1.38zM916.4 384.8h1.38v1.37h-1.38zM918.0 384.8h1.38v1.37h-1.38zM859.6 386.5h1.38v1.37h-1.38zM862.9 386.5h1.38v1.37h-1.38zM866.1 386.5h1.38v1.37h-1.38zM869.4 386.5h1.38v1.37h-1.38zM875.8 386.5h1.38v1.37h-1.38zM877.5 386.5h1.38v1.37h-1.38zM883.9 386.5h1.38v1.37h-1.38zM887.2 386.5h1.38v1.37h-1.38zM896.9 386.5h1.38v1.37h-1.38zM906.6 386.5h1.38v1.37h-1.38zM908.3 386.5h1.38v1.37h-1.38zM909.9 386.5h1.38v1.37h-1.38zM911.5 386.5h1.38v1.37h-1.38zM913.1 386.5h1.38v1.37h-1.38zM914.8 386.5h1.38v1.37h-1.38zM918.0 386.5h1.38v1.37h-1.38zM859.6 388.1h1.38v1.37h-1.38zM862.9 388.1h1.38v1.37h-1.38zM867.7 388.1h1.38v1.37h-1.38zM871.0 388.1h1.38v1.37h-1.38zM872.6 388.1h1.38v1.37h-1.38zM875.8 388.1h1.38v1.37h-1.38zM877.5 388.1h1.38v1.37h-1.38zM880.7 388.1h1.38v1.37h-1.38zM885.6 388.1h1.38v1.37h-1.38zM887.2 388.1h1.38v1.37h-1.38zM890.4 388.1h1.38v1.37h-1.38zM892.1 388.1h1.38v1.37h-1.38zM896.9 388.1h1.38v1.37h-1.38zM898.5 388.1h1.38v1.37h-1.38zM901.8 388.1h1.38v1.37h-1.38zM903.4 388.1h1.38v1.37h-1.38zM905.0 388.1h1.38v1.37h-1.38zM914.8 388.1h1.38v1.37h-1.38zM916.4 388.1h1.38v1.37h-1.38zM859.6 389.7h1.38v1.37h-1.38zM861.2 389.7h1.38v1.37h-1.38zM872.6 389.7h1.38v1.37h-1.38zM874.2 389.7h1.38v1.37h-1.38zM875.8 389.7h1.38v1.37h-1.38zM877.5 389.7h1.38v1.37h-1.38zM879.1 389.7h1.38v1.37h-1.38zM880.7 389.7h1.38v1.37h-1.38zM882.3 389.7h1.38v1.37h-1.38zM890.4 389.7h1.38v1.37h-1.38zM895.3 389.7h1.38v1.37h-1.38zM898.5 389.7h1.38v1.37h-1.38zM918.0 389.7h1.38v1.37h-1.38zM859.6 391.3h1.38v1.37h-1.38zM861.2 391.3h1.38v1.37h-1.38zM867.7 391.3h1.38v1.37h-1.38zM869.4 391.3h1.38v1.37h-1.38zM874.2 391.3h1.38v1.37h-1.38zM880.7 391.3h1.38v1.37h-1.38zM883.9 391.3h1.38v1.37h-1.38zM892.1 391.3h1.38v1.37h-1.38zM893.7 391.3h1.38v1.37h-1.38zM895.3 391.3h1.38v1.37h-1.38zM896.9 391.3h1.38v1.37h-1.38zM913.1 391.3h1.38v1.37h-1.38zM864.5 392.9h1.38v1.37h-1.38zM867.7 392.9h1.38v1.37h-1.38zM871.0 392.9h1.38v1.37h-1.38zM872.6 392.9h1.38v1.37h-1.38zM877.5 392.9h1.38v1.37h-1.38zM879.1 392.9h1.38v1.37h-1.38zM883.9 392.9h1.38v1.37h-1.38zM890.4 392.9h1.38v1.37h-1.38zM892.1 392.9h1.38v1.37h-1.38zM893.7 392.9h1.38v1.37h-1.38zM900.2 392.9h1.38v1.37h-1.38zM903.4 392.9h1.38v1.37h-1.38zM906.6 392.9h1.38v1.37h-1.38zM908.3 392.9h1.38v1.37h-1.38zM909.9 392.9h1.38v1.37h-1.38zM913.1 392.9h1.38v1.37h-1.38zM914.8 392.9h1.38v1.37h-1.38zM918.0 392.9h1.38v1.37h-1.38zM866.1 394.5h1.38v1.37h-1.38zM869.4 394.5h1.38v1.37h-1.38zM871.0 394.5h1.38v1.37h-1.38zM872.6 394.5h1.38v1.37h-1.38zM875.8 394.5h1.38v1.37h-1.38zM880.7 394.5h1.38v1.37h-1.38zM882.3 394.5h1.38v1.37h-1.38zM883.9 394.5h1.38v1.37h-1.38zM887.2 394.5h1.38v1.37h-1.38zM888.8 394.5h1.38v1.37h-1.38zM906.6 394.5h1.38v1.37h-1.38zM908.3 394.5h1.38v1.37h-1.38zM909.9 394.5h1.38v1.37h-1.38zM918.0 394.5h1.38v1.37h-1.38zM861.2 396.1h1.38v1.37h-1.38zM864.5 396.1h1.38v1.37h-1.38zM866.1 396.1h1.38v1.37h-1.38zM867.7 396.1h1.38v1.37h-1.38zM872.6 396.1h1.38v1.37h-1.38zM877.5 396.1h1.38v1.37h-1.38zM885.6 396.1h1.38v1.37h-1.38zM892.1 396.1h1.38v1.37h-1.38zM896.9 396.1h1.38v1.37h-1.38zM898.5 396.1h1.38v1.37h-1.38zM900.2 396.1h1.38v1.37h-1.38zM903.4 396.1h1.38v1.37h-1.38zM906.6 396.1h1.38v1.37h-1.38zM911.5 396.1h1.38v1.37h-1.38zM916.4 396.1h1.38v1.37h-1.38zM872.6 397.7h1.38v1.37h-1.38zM874.2 397.7h1.38v1.37h-1.38zM877.5 397.7h1.38v1.37h-1.38zM882.3 397.7h1.38v1.37h-1.38zM885.6 397.7h1.38v1.37h-1.38zM890.4 397.7h1.38v1.37h-1.38zM893.7 397.7h1.38v1.37h-1.38zM895.3 397.7h1.38v1.37h-1.38zM896.9 397.7h1.38v1.37h-1.38zM903.4 397.7h1.38v1.37h-1.38zM905.0 397.7h1.38v1.37h-1.38zM906.6 397.7h1.38v1.37h-1.38zM913.1 397.7h1.38v1.37h-1.38zM875.8 399.3h1.38v1.37h-1.38zM877.5 399.3h1.38v1.37h-1.38zM890.4 399.3h1.38v1.37h-1.38zM892.1 399.3h1.38v1.37h-1.38zM898.5 399.3h1.38v1.37h-1.38zM901.8 399.3h1.38v1.37h-1.38zM903.4 399.3h1.38v1.37h-1.38zM905.0 399.3h1.38v1.37h-1.38zM906.6 399.3h1.38v1.37h-1.38zM909.9 399.3h1.38v1.37h-1.38zM911.5 399.3h1.38v1.37h-1.38zM916.4 399.3h1.38v1.37h-1.38zM918.0 399.3h1.38v1.37h-1.38zM875.8 401.0h1.38v1.37h-1.38zM879.1 401.0h1.38v1.37h-1.38zM882.3 401.0h1.38v1.37h-1.38zM885.6 401.0h1.38v1.37h-1.38zM888.8 401.0h1.38v1.37h-1.38zM893.7 401.0h1.38v1.37h-1.38zM895.3 401.0h1.38v1.37h-1.38zM900.2 401.0h1.38v1.37h-1.38zM901.8 401.0h1.38v1.37h-1.38zM903.4 401.0h1.38v1.37h-1.38zM906.6 401.0h1.38v1.37h-1.38zM908.3 401.0h1.38v1.37h-1.38zM872.6 402.6h1.38v1.37h-1.38zM875.8 402.6h1.38v1.37h-1.38zM879.1 402.6h1.38v1.37h-1.38zM885.6 402.6h1.38v1.37h-1.38zM890.4 402.6h1.38v1.37h-1.38zM893.7 402.6h1.38v1.37h-1.38zM898.5 402.6h1.38v1.37h-1.38zM906.6 402.6h1.38v1.37h-1.38zM908.3 402.6h1.38v1.37h-1.38zM875.8 404.2h1.38v1.37h-1.38zM882.3 404.2h1.38v1.37h-1.38zM883.9 404.2h1.38v1.37h-1.38zM885.6 404.2h1.38v1.37h-1.38zM887.2 404.2h1.38v1.37h-1.38zM888.8 404.2h1.38v1.37h-1.38zM890.4 404.2h1.38v1.37h-1.38zM895.3 404.2h1.38v1.37h-1.38zM896.9 404.2h1.38v1.37h-1.38zM900.2 404.2h1.38v1.37h-1.38zM903.4 404.2h1.38v1.37h-1.38zM906.6 404.2h1.38v1.37h-1.38zM908.3 404.2h1.38v1.37h-1.38zM916.4 404.2h1.38v1.37h-1.38zM874.2 405.8h1.38v1.37h-1.38zM875.8 405.8h1.38v1.37h-1.38zM877.5 405.8h1.38v1.37h-1.38zM888.8 405.8h1.38v1.37h-1.38zM895.3 405.8h1.38v1.37h-1.38zM900.2 405.8h1.38v1.37h-1.38zM901.8 405.8h1.38v1.37h-1.38zM905.0 405.8h1.38v1.37h-1.38zM908.3 405.8h1.38v1.37h-1.38zM909.9 405.8h1.38v1.37h-1.38zM888.8 407.4h1.38v1.37h-1.38zM892.1 407.4h1.38v1.37h-1.38zM893.7 407.4h1.38v1.37h-1.38zM896.9 407.4h1.38v1.37h-1.38zM898.5 407.4h1.38v1.37h-1.38zM901.8 407.4h1.38v1.37h-1.38zM903.4 407.4h1.38v1.37h-1.38zM905.0 407.4h1.38v1.37h-1.38zM908.3 407.4h1.38v1.37h-1.38zM913.1 407.4h1.38v1.37h-1.38zM914.8 407.4h1.38v1.37h-1.38zM916.4 407.4h1.38v1.37h-1.38zM918.0 407.4h1.38v1.37h-1.38zM882.3 409.0h1.38v1.37h-1.38zM888.8 409.0h1.38v1.37h-1.38zM892.1 409.0h1.38v1.37h-1.38zM901.8 409.0h1.38v1.37h-1.38zM908.3 409.0h1.38v1.37h-1.38zM909.9 409.0h1.38v1.37h-1.38zM911.5 409.0h1.38v1.37h-1.38zM914.8 409.0h1.38v1.37h-1.38zM918.0 409.0h1.38v1.37h-1.38z" fill="#1a1a1a"/><rect x="860.47" y="351.87" width="9.41" height="9.34" rx="2.92" fill="none" stroke="#111" stroke-width="1.95"/><rect x="862.74" y="354.12" width="4.86" height="4.83" rx="1.62" fill="#111"/><rect x="909.12" y="351.87" width="9.41" height="9.34" rx="2.92" fill="none" stroke="#111" stroke-width="1.95"/><rect x="911.39" y="354.12" width="4.86" height="4.83" rx="1.62" fill="#111"/><rect x="860.47" y="400.19" width="9.41" height="9.34" rx="2.92" fill="none" stroke="#111" stroke-width="1.95"/><rect x="862.74" y="402.45" width="4.86" height="4.83" rx="1.62" fill="#111"/><rect x="57.80" y="649.90" width="70.10" height="69.80" rx="8.5" fill="#fff" stroke="#243e8c" stroke-width="2"/><path d="M85.6 656.4h1.35v1.36h-1.35zM93.5 656.4h1.35v1.36h-1.35zM96.7 656.4h1.35v1.36h-1.35zM101.5 656.4h1.35v1.36h-1.35zM103.0 656.4h1.35v1.36h-1.35zM104.6 656.4h1.35v1.36h-1.35zM76.0 658.0h1.35v1.36h-1.35zM79.2 658.0h1.35v1.36h-1.35zM82.4 658.0h1.35v1.36h-1.35zM84.0 658.0h1.35v1.36h-1.35zM87.2 658.0h1.35v1.36h-1.35zM88.7 658.0h1.35v1.36h-1.35zM93.5 658.0h1.35v1.36h-1.35zM99.9 658.0h1.35v1.36h-1.35zM107.8 658.0h1.35v1.36h-1.35zM76.0 659.6h1.35v1.36h-1.35zM77.6 659.6h1.35v1.36h-1.35zM79.2 659.6h1.35v1.36h-1.35zM80.8 659.6h1.35v1.36h-1.35zM82.4 659.6h1.35v1.36h-1.35zM85.6 659.6h1.35v1.36h-1.35zM88.7 659.6h1.35v1.36h-1.35zM90.3 659.6h1.35v1.36h-1.35zM95.1 659.6h1.35v1.36h-1.35zM99.9 659.6h1.35v1.36h-1.35zM103.0 659.6h1.35v1.36h-1.35zM107.8 659.6h1.35v1.36h-1.35zM77.6 661.2h1.35v1.36h-1.35zM80.8 661.2h1.35v1.36h-1.35zM82.4 661.2h1.35v1.36h-1.35zM84.0 661.2h1.35v1.36h-1.35zM87.2 661.2h1.35v1.36h-1.35zM93.5 661.2h1.35v1.36h-1.35zM95.1 661.2h1.35v1.36h-1.35zM99.9 661.2h1.35v1.36h-1.35zM106.2 661.2h1.35v1.36h-1.35zM76.0 662.8h1.35v1.36h-1.35zM77.6 662.8h1.35v1.36h-1.35zM82.4 662.8h1.35v1.36h-1.35zM87.2 662.8h1.35v1.36h-1.35zM88.7 662.8h1.35v1.36h-1.35zM90.3 662.8h1.35v1.36h-1.35zM91.9 662.8h1.35v1.36h-1.35zM93.5 662.8h1.35v1.36h-1.35zM98.3 662.8h1.35v1.36h-1.35zM99.9 662.8h1.35v1.36h-1.35zM106.2 662.8h1.35v1.36h-1.35zM80.8 664.4h1.35v1.36h-1.35zM84.0 664.4h1.35v1.36h-1.35zM88.7 664.4h1.35v1.36h-1.35zM96.7 664.4h1.35v1.36h-1.35zM99.9 664.4h1.35v1.36h-1.35zM103.0 664.4h1.35v1.36h-1.35zM84.0 666.0h1.35v1.36h-1.35zM87.2 666.0h1.35v1.36h-1.35zM88.7 666.0h1.35v1.36h-1.35zM96.7 666.0h1.35v1.36h-1.35zM98.3 666.0h1.35v1.36h-1.35zM99.9 666.0h1.35v1.36h-1.35zM104.6 666.0h1.35v1.36h-1.35zM80.8 667.6h1.35v1.36h-1.35zM84.0 667.6h1.35v1.36h-1.35zM90.3 667.6h1.35v1.36h-1.35zM96.7 667.6h1.35v1.36h-1.35zM99.9 667.6h1.35v1.36h-1.35zM63.3 669.2h1.35v1.36h-1.35zM69.7 669.2h1.35v1.36h-1.35zM82.4 669.2h1.35v1.36h-1.35zM93.5 669.2h1.35v1.36h-1.35zM107.8 669.2h1.35v1.36h-1.35zM109.4 669.2h1.35v1.36h-1.35zM114.2 669.2h1.35v1.36h-1.35zM118.9 669.2h1.35v1.36h-1.35zM63.3 670.8h1.35v1.36h-1.35zM64.9 670.8h1.35v1.36h-1.35zM66.5 670.8h1.35v1.36h-1.35zM68.1 670.8h1.35v1.36h-1.35zM69.7 670.8h1.35v1.36h-1.35zM71.3 670.8h1.35v1.36h-1.35zM72.9 670.8h1.35v1.36h-1.35zM76.0 670.8h1.35v1.36h-1.35zM80.8 670.8h1.35v1.36h-1.35zM84.0 670.8h1.35v1.36h-1.35zM87.2 670.8h1.35v1.36h-1.35zM90.3 670.8h1.35v1.36h-1.35zM93.5 670.8h1.35v1.36h-1.35zM95.1 670.8h1.35v1.36h-1.35zM98.3 670.8h1.35v1.36h-1.35zM101.5 670.8h1.35v1.36h-1.35zM112.6 670.8h1.35v1.36h-1.35zM114.2 670.8h1.35v1.36h-1.35zM64.9 672.4h1.35v1.36h-1.35zM68.1 672.4h1.35v1.36h-1.35zM69.7 672.4h1.35v1.36h-1.35zM74.4 672.4h1.35v1.36h-1.35zM79.2 672.4h1.35v1.36h-1.35zM82.4 672.4h1.35v1.36h-1.35zM84.0 672.4h1.35v1.36h-1.35zM87.2 672.4h1.35v1.36h-1.35zM93.5 672.4h1.35v1.36h-1.35zM99.9 672.4h1.35v1.36h-1.35zM104.6 672.4h1.35v1.36h-1.35zM107.8 672.4h1.35v1.36h-1.35zM112.6 672.4h1.35v1.36h-1.35zM117.4 672.4h1.35v1.36h-1.35zM120.5 672.4h1.35v1.36h-1.35zM66.5 674.0h1.35v1.36h-1.35zM68.1 674.0h1.35v1.36h-1.35zM69.7 674.0h1.35v1.36h-1.35zM72.9 674.0h1.35v1.36h-1.35zM82.4 674.0h1.35v1.36h-1.35zM85.6 674.0h1.35v1.36h-1.35zM88.7 674.0h1.35v1.36h-1.35zM90.3 674.0h1.35v1.36h-1.35zM95.1 674.0h1.35v1.36h-1.35zM99.9 674.0h1.35v1.36h-1.35zM101.5 674.0h1.35v1.36h-1.35zM109.4 674.0h1.35v1.36h-1.35zM63.3 675.6h1.35v1.36h-1.35zM64.9 675.6h1.35v1.36h-1.35zM68.1 675.6h1.35v1.36h-1.35zM69.7 675.6h1.35v1.36h-1.35zM72.9 675.6h1.35v1.36h-1.35zM79.2 675.6h1.35v1.36h-1.35zM84.0 675.6h1.35v1.36h-1.35zM90.3 675.6h1.35v1.36h-1.35zM91.9 675.6h1.35v1.36h-1.35zM96.7 675.6h1.35v1.36h-1.35zM98.3 675.6h1.35v1.36h-1.35zM104.6 675.6h1.35v1.36h-1.35zM112.6 675.6h1.35v1.36h-1.35zM115.8 675.6h1.35v1.36h-1.35zM63.3 677.2h1.35v1.36h-1.35zM64.9 677.2h1.35v1.36h-1.35zM68.1 677.2h1.35v1.36h-1.35zM72.9 677.2h1.35v1.36h-1.35zM76.0 677.2h1.35v1.36h-1.35zM77.6 677.2h1.35v1.36h-1.35zM79.2 677.2h1.35v1.36h-1.35zM80.8 677.2h1.35v1.36h-1.35zM82.4 677.2h1.35v1.36h-1.35zM88.7 677.2h1.35v1.36h-1.35zM91.9 677.2h1.35v1.36h-1.35zM98.3 677.2h1.35v1.36h-1.35zM99.9 677.2h1.35v1.36h-1.35zM103.0 677.2h1.35v1.36h-1.35zM112.6 677.2h1.35v1.36h-1.35zM115.8 677.2h1.35v1.36h-1.35zM120.5 677.2h1.35v1.36h-1.35zM63.3 678.8h1.35v1.36h-1.35zM64.9 678.8h1.35v1.36h-1.35zM68.1 678.8h1.35v1.36h-1.35zM72.9 678.8h1.35v1.36h-1.35zM76.0 678.8h1.35v1.36h-1.35zM77.6 678.8h1.35v1.36h-1.35zM80.8 678.8h1.35v1.36h-1.35zM85.6 678.8h1.35v1.36h-1.35zM88.7 678.8h1.35v1.36h-1.35zM91.9 678.8h1.35v1.36h-1.35zM93.5 678.8h1.35v1.36h-1.35zM98.3 678.8h1.35v1.36h-1.35zM99.9 678.8h1.35v1.36h-1.35zM106.2 678.8h1.35v1.36h-1.35zM109.4 678.8h1.35v1.36h-1.35zM111.0 678.8h1.35v1.36h-1.35zM112.6 678.8h1.35v1.36h-1.35zM115.8 678.8h1.35v1.36h-1.35zM117.4 678.8h1.35v1.36h-1.35zM118.9 678.8h1.35v1.36h-1.35zM76.0 680.4h1.35v1.36h-1.35zM77.6 680.4h1.35v1.36h-1.35zM79.2 680.4h1.35v1.36h-1.35zM80.8 680.4h1.35v1.36h-1.35zM82.4 680.4h1.35v1.36h-1.35zM88.7 680.4h1.35v1.36h-1.35zM98.3 680.4h1.35v1.36h-1.35zM99.9 680.4h1.35v1.36h-1.35zM101.5 680.4h1.35v1.36h-1.35zM103.0 680.4h1.35v1.36h-1.35zM104.6 680.4h1.35v1.36h-1.35zM107.8 680.4h1.35v1.36h-1.35zM109.4 680.4h1.35v1.36h-1.35zM111.0 680.4h1.35v1.36h-1.35zM112.6 680.4h1.35v1.36h-1.35zM114.2 680.4h1.35v1.36h-1.35zM115.8 680.4h1.35v1.36h-1.35zM118.9 680.4h1.35v1.36h-1.35zM63.3 682.0h1.35v1.36h-1.35zM72.9 682.0h1.35v1.36h-1.35zM76.0 682.0h1.35v1.36h-1.35zM80.8 682.0h1.35v1.36h-1.35zM82.4 682.0h1.35v1.36h-1.35zM84.0 682.0h1.35v1.36h-1.35zM85.6 682.0h1.35v1.36h-1.35zM87.2 682.0h1.35v1.36h-1.35zM91.9 682.0h1.35v1.36h-1.35zM93.5 682.0h1.35v1.36h-1.35zM96.7 682.0h1.35v1.36h-1.35zM101.5 682.0h1.35v1.36h-1.35zM103.0 682.0h1.35v1.36h-1.35zM112.6 682.0h1.35v1.36h-1.35zM114.2 682.0h1.35v1.36h-1.35zM118.9 682.0h1.35v1.36h-1.35zM66.5 683.6h1.35v1.36h-1.35zM68.1 683.6h1.35v1.36h-1.35zM69.7 683.6h1.35v1.36h-1.35zM76.0 683.6h1.35v1.36h-1.35zM77.6 683.6h1.35v1.36h-1.35zM79.2 683.6h1.35v1.36h-1.35zM80.8 683.6h1.35v1.36h-1.35zM82.4 683.6h1.35v1.36h-1.35zM84.0 683.6h1.35v1.36h-1.35zM87.2 683.6h1.35v1.36h-1.35zM88.7 683.6h1.35v1.36h-1.35zM90.3 683.6h1.35v1.36h-1.35zM93.5 683.6h1.35v1.36h-1.35zM99.9 683.6h1.35v1.36h-1.35zM101.5 683.6h1.35v1.36h-1.35zM103.0 683.6h1.35v1.36h-1.35zM111.0 683.6h1.35v1.36h-1.35zM112.6 683.6h1.35v1.36h-1.35zM118.9 683.6h1.35v1.36h-1.35zM66.5 685.2h1.35v1.36h-1.35zM71.3 685.2h1.35v1.36h-1.35zM72.9 685.2h1.35v1.36h-1.35zM74.4 685.2h1.35v1.36h-1.35zM76.0 685.2h1.35v1.36h-1.35zM80.8 685.2h1.35v1.36h-1.35zM82.4 685.2h1.35v1.36h-1.35zM84.0 685.2h1.35v1.36h-1.35zM85.6 685.2h1.35v1.36h-1.35zM87.2 685.2h1.35v1.36h-1.35zM91.9 685.2h1.35v1.36h-1.35zM93.5 685.2h1.35v1.36h-1.35zM96.7 685.2h1.35v1.36h-1.35zM98.3 685.2h1.35v1.36h-1.35zM99.9 685.2h1.35v1.36h-1.35zM101.5 685.2h1.35v1.36h-1.35zM103.0 685.2h1.35v1.36h-1.35zM106.2 685.2h1.35v1.36h-1.35zM68.1 686.8h1.35v1.36h-1.35zM71.3 686.8h1.35v1.36h-1.35zM72.9 686.8h1.35v1.36h-1.35zM74.4 686.8h1.35v1.36h-1.35zM76.0 686.8h1.35v1.36h-1.35zM77.6 686.8h1.35v1.36h-1.35zM80.8 686.8h1.35v1.36h-1.35zM82.4 686.8h1.35v1.36h-1.35zM87.2 686.8h1.35v1.36h-1.35zM88.7 686.8h1.35v1.36h-1.35zM90.3 686.8h1.35v1.36h-1.35zM91.9 686.8h1.35v1.36h-1.35zM98.3 686.8h1.35v1.36h-1.35zM101.5 686.8h1.35v1.36h-1.35zM103.0 686.8h1.35v1.36h-1.35zM104.6 686.8h1.35v1.36h-1.35zM111.0 686.8h1.35v1.36h-1.35zM114.2 686.8h1.35v1.36h-1.35zM63.3 688.4h1.35v1.36h-1.35zM64.9 688.4h1.35v1.36h-1.35zM80.8 688.4h1.35v1.36h-1.35zM85.6 688.4h1.35v1.36h-1.35zM88.7 688.4h1.35v1.36h-1.35zM95.1 688.4h1.35v1.36h-1.35zM96.7 688.4h1.35v1.36h-1.35zM98.3 688.4h1.35v1.36h-1.35zM99.9 688.4h1.35v1.36h-1.35zM103.0 688.4h1.35v1.36h-1.35zM106.2 688.4h1.35v1.36h-1.35zM107.8 688.4h1.35v1.36h-1.35zM109.4 688.4h1.35v1.36h-1.35zM118.9 688.4h1.35v1.36h-1.35zM64.9 690.0h1.35v1.36h-1.35zM66.5 690.0h1.35v1.36h-1.35zM68.1 690.0h1.35v1.36h-1.35zM72.9 690.0h1.35v1.36h-1.35zM76.0 690.0h1.35v1.36h-1.35zM84.0 690.0h1.35v1.36h-1.35zM85.6 690.0h1.35v1.36h-1.35zM90.3 690.0h1.35v1.36h-1.35zM91.9 690.0h1.35v1.36h-1.35zM93.5 690.0h1.35v1.36h-1.35zM95.1 690.0h1.35v1.36h-1.35zM96.7 690.0h1.35v1.36h-1.35zM98.3 690.0h1.35v1.36h-1.35zM103.0 690.0h1.35v1.36h-1.35zM115.8 690.0h1.35v1.36h-1.35zM63.3 691.6h1.35v1.36h-1.35zM64.9 691.6h1.35v1.36h-1.35zM66.5 691.6h1.35v1.36h-1.35zM68.1 691.6h1.35v1.36h-1.35zM74.4 691.6h1.35v1.36h-1.35zM77.6 691.6h1.35v1.36h-1.35zM80.8 691.6h1.35v1.36h-1.35zM95.1 691.6h1.35v1.36h-1.35zM99.9 691.6h1.35v1.36h-1.35zM104.6 691.6h1.35v1.36h-1.35zM106.2 691.6h1.35v1.36h-1.35zM107.8 691.6h1.35v1.36h-1.35zM109.4 691.6h1.35v1.36h-1.35zM117.4 691.6h1.35v1.36h-1.35zM118.9 691.6h1.35v1.36h-1.35zM66.5 693.2h1.35v1.36h-1.35zM69.7 693.2h1.35v1.36h-1.35zM71.3 693.2h1.35v1.36h-1.35zM72.9 693.2h1.35v1.36h-1.35zM77.6 693.2h1.35v1.36h-1.35zM82.4 693.2h1.35v1.36h-1.35zM84.0 693.2h1.35v1.36h-1.35zM98.3 693.2h1.35v1.36h-1.35zM99.9 693.2h1.35v1.36h-1.35zM104.6 693.2h1.35v1.36h-1.35zM106.2 693.2h1.35v1.36h-1.35zM107.8 693.2h1.35v1.36h-1.35zM112.6 693.2h1.35v1.36h-1.35zM114.2 693.2h1.35v1.36h-1.35zM63.3 694.8h1.35v1.36h-1.35zM69.7 694.8h1.35v1.36h-1.35zM76.0 694.8h1.35v1.36h-1.35zM82.4 694.8h1.35v1.36h-1.35zM84.0 694.8h1.35v1.36h-1.35zM85.6 694.8h1.35v1.36h-1.35zM87.2 694.8h1.35v1.36h-1.35zM88.7 694.8h1.35v1.36h-1.35zM91.9 694.8h1.35v1.36h-1.35zM107.8 694.8h1.35v1.36h-1.35zM109.4 694.8h1.35v1.36h-1.35zM111.0 694.8h1.35v1.36h-1.35zM112.6 694.8h1.35v1.36h-1.35zM114.2 694.8h1.35v1.36h-1.35zM120.5 694.8h1.35v1.36h-1.35zM66.5 696.4h1.35v1.36h-1.35zM68.1 696.4h1.35v1.36h-1.35zM71.3 696.4h1.35v1.36h-1.35zM79.2 696.4h1.35v1.36h-1.35zM84.0 696.4h1.35v1.36h-1.35zM85.6 696.4h1.35v1.36h-1.35zM88.7 696.4h1.35v1.36h-1.35zM93.5 696.4h1.35v1.36h-1.35zM95.1 696.4h1.35v1.36h-1.35zM103.0 696.4h1.35v1.36h-1.35zM104.6 696.4h1.35v1.36h-1.35zM109.4 696.4h1.35v1.36h-1.35zM112.6 696.4h1.35v1.36h-1.35zM115.8 696.4h1.35v1.36h-1.35zM117.4 696.4h1.35v1.36h-1.35zM118.9 696.4h1.35v1.36h-1.35zM66.5 698.0h1.35v1.36h-1.35zM69.7 698.0h1.35v1.36h-1.35zM71.3 698.0h1.35v1.36h-1.35zM74.4 698.0h1.35v1.36h-1.35zM77.6 698.0h1.35v1.36h-1.35zM79.2 698.0h1.35v1.36h-1.35zM80.8 698.0h1.35v1.36h-1.35zM84.0 698.0h1.35v1.36h-1.35zM87.2 698.0h1.35v1.36h-1.35zM88.7 698.0h1.35v1.36h-1.35zM95.1 698.0h1.35v1.36h-1.35zM96.7 698.0h1.35v1.36h-1.35zM103.0 698.0h1.35v1.36h-1.35zM104.6 698.0h1.35v1.36h-1.35zM115.8 698.0h1.35v1.36h-1.35zM117.4 698.0h1.35v1.36h-1.35zM68.1 699.6h1.35v1.36h-1.35zM74.4 699.6h1.35v1.36h-1.35zM82.4 699.6h1.35v1.36h-1.35zM85.6 699.6h1.35v1.36h-1.35zM88.7 699.6h1.35v1.36h-1.35zM91.9 699.6h1.35v1.36h-1.35zM93.5 699.6h1.35v1.36h-1.35zM96.7 699.6h1.35v1.36h-1.35zM98.3 699.6h1.35v1.36h-1.35zM103.0 699.6h1.35v1.36h-1.35zM104.6 699.6h1.35v1.36h-1.35zM111.0 699.6h1.35v1.36h-1.35zM112.6 699.6h1.35v1.36h-1.35zM117.4 699.6h1.35v1.36h-1.35zM118.9 699.6h1.35v1.36h-1.35zM63.3 701.2h1.35v1.36h-1.35zM66.5 701.2h1.35v1.36h-1.35zM69.7 701.2h1.35v1.36h-1.35zM76.0 701.2h1.35v1.36h-1.35zM77.6 701.2h1.35v1.36h-1.35zM80.8 701.2h1.35v1.36h-1.35zM82.4 701.2h1.35v1.36h-1.35zM88.7 701.2h1.35v1.36h-1.35zM91.9 701.2h1.35v1.36h-1.35zM96.7 701.2h1.35v1.36h-1.35zM101.5 701.2h1.35v1.36h-1.35zM111.0 701.2h1.35v1.36h-1.35zM114.2 701.2h1.35v1.36h-1.35zM115.8 701.2h1.35v1.36h-1.35zM117.4 701.2h1.35v1.36h-1.35zM118.9 701.2h1.35v1.36h-1.35zM120.5 701.2h1.35v1.36h-1.35zM80.8 702.8h1.35v1.36h-1.35zM90.3 702.8h1.35v1.36h-1.35zM91.9 702.8h1.35v1.36h-1.35zM95.1 702.8h1.35v1.36h-1.35zM101.5 702.8h1.35v1.36h-1.35zM104.6 702.8h1.35v1.36h-1.35zM109.4 702.8h1.35v1.36h-1.35zM111.0 702.8h1.35v1.36h-1.35zM115.8 702.8h1.35v1.36h-1.35zM118.9 702.8h1.35v1.36h-1.35zM120.5 702.8h1.35v1.36h-1.35zM76.0 704.4h1.35v1.36h-1.35zM77.6 704.4h1.35v1.36h-1.35zM80.8 704.4h1.35v1.36h-1.35zM82.4 704.4h1.35v1.36h-1.35zM87.2 704.4h1.35v1.36h-1.35zM91.9 704.4h1.35v1.36h-1.35zM95.1 704.4h1.35v1.36h-1.35zM96.7 704.4h1.35v1.36h-1.35zM103.0 704.4h1.35v1.36h-1.35zM104.6 704.4h1.35v1.36h-1.35zM106.2 704.4h1.35v1.36h-1.35zM111.0 704.4h1.35v1.36h-1.35zM112.6 704.4h1.35v1.36h-1.35zM118.9 704.4h1.35v1.36h-1.35zM76.0 706.0h1.35v1.36h-1.35zM82.4 706.0h1.35v1.36h-1.35zM85.6 706.0h1.35v1.36h-1.35zM87.2 706.0h1.35v1.36h-1.35zM90.3 706.0h1.35v1.36h-1.35zM91.9 706.0h1.35v1.36h-1.35zM99.9 706.0h1.35v1.36h-1.35zM104.6 706.0h1.35v1.36h-1.35zM107.8 706.0h1.35v1.36h-1.35zM109.4 706.0h1.35v1.36h-1.35zM111.0 706.0h1.35v1.36h-1.35zM118.9 706.0h1.35v1.36h-1.35zM120.5 706.0h1.35v1.36h-1.35zM76.0 707.6h1.35v1.36h-1.35zM79.2 707.6h1.35v1.36h-1.35zM80.8 707.6h1.35v1.36h-1.35zM82.4 707.6h1.35v1.36h-1.35zM84.0 707.6h1.35v1.36h-1.35zM90.3 707.6h1.35v1.36h-1.35zM91.9 707.6h1.35v1.36h-1.35zM101.5 707.6h1.35v1.36h-1.35zM103.0 707.6h1.35v1.36h-1.35zM117.4 707.6h1.35v1.36h-1.35zM118.9 707.6h1.35v1.36h-1.35zM120.5 707.6h1.35v1.36h-1.35zM76.0 709.2h1.35v1.36h-1.35zM79.2 709.2h1.35v1.36h-1.35zM85.6 709.2h1.35v1.36h-1.35zM88.7 709.2h1.35v1.36h-1.35zM90.3 709.2h1.35v1.36h-1.35zM96.7 709.2h1.35v1.36h-1.35zM99.9 709.2h1.35v1.36h-1.35zM104.6 709.2h1.35v1.36h-1.35zM107.8 709.2h1.35v1.36h-1.35zM109.4 709.2h1.35v1.36h-1.35zM111.0 709.2h1.35v1.36h-1.35zM117.4 709.2h1.35v1.36h-1.35zM118.9 709.2h1.35v1.36h-1.35zM120.5 709.2h1.35v1.36h-1.35zM82.4 710.8h1.35v1.36h-1.35zM85.6 710.8h1.35v1.36h-1.35zM87.2 710.8h1.35v1.36h-1.35zM90.3 710.8h1.35v1.36h-1.35zM91.9 710.8h1.35v1.36h-1.35zM99.9 710.8h1.35v1.36h-1.35zM103.0 710.8h1.35v1.36h-1.35zM106.2 710.8h1.35v1.36h-1.35zM112.6 710.8h1.35v1.36h-1.35zM118.9 710.8h1.35v1.36h-1.35zM77.6 712.4h1.35v1.36h-1.35zM82.4 712.4h1.35v1.36h-1.35zM87.2 712.4h1.35v1.36h-1.35zM88.7 712.4h1.35v1.36h-1.35zM99.9 712.4h1.35v1.36h-1.35zM103.0 712.4h1.35v1.36h-1.35zM109.4 712.4h1.35v1.36h-1.35zM111.0 712.4h1.35v1.36h-1.35zM115.8 712.4h1.35v1.36h-1.35zM118.9 712.4h1.35v1.36h-1.35zM120.5 712.4h1.35v1.36h-1.35zM76.0 714.0h1.35v1.36h-1.35zM82.4 714.0h1.35v1.36h-1.35zM85.6 714.0h1.35v1.36h-1.35zM88.7 714.0h1.35v1.36h-1.35zM90.3 714.0h1.35v1.36h-1.35zM91.9 714.0h1.35v1.36h-1.35zM95.1 714.0h1.35v1.36h-1.35zM98.3 714.0h1.35v1.36h-1.35zM107.8 714.0h1.35v1.36h-1.35zM109.4 714.0h1.35v1.36h-1.35zM112.6 714.0h1.35v1.36h-1.35zM118.9 714.0h1.35v1.36h-1.35z" fill="#1a1a1a"/><rect x="64.15" y="657.26" width="9.22" height="9.28" rx="2.86" fill="none" stroke="#111" stroke-width="1.91"/><rect x="66.38" y="659.50" width="4.77" height="4.80" rx="1.59" fill="#111"/><rect x="111.83" y="657.26" width="9.22" height="9.28" rx="2.86" fill="none" stroke="#111" stroke-width="1.91"/><rect x="114.05" y="659.50" width="4.77" height="4.80" rx="1.59" fill="#111"/><rect x="64.15" y="705.26" width="9.22" height="9.28" rx="2.86" fill="none" stroke="#111" stroke-width="1.91"/><rect x="66.38" y="707.50" width="4.77" height="4.80" rx="1.59" fill="#111"/><circle cx="264.7" cy="624.4" r="2.1" fill="#231f20"/><circle cx="264.7" cy="640.4" r="2.1" fill="#231f20"/><circle cx="264.7" cy="673.5" r="2.1" fill="#231f20"/><circle cx="264.7" cy="706.1" r="2.1" fill="#231f20"/><circle cx="445.8" cy="624.4" r="2.1" fill="#231f20"/><circle cx="445.8" cy="656.9" r="2.1" fill="#231f20"/><circle cx="445.8" cy="673.0" r="2.1" fill="#231f20"/><circle cx="445.8" cy="689.3" r="2.1" fill="#231f20"/><circle cx="445.8" cy="721.9" r="2.1" fill="#231f20"/></svg><div class="t" id="t0" style="left:27.09px;top:18.18px;font-size:33.5px;font-weight:bold;color:#007ac6;transform:scaleX(0.9530)">Find the best service for your illness or injury</div><div class="t" id="t1" style="left:63.04px;top:160.48px;font-size:21px;font-weight:bold;color:#ffffff;transform:scaleX(0.9593)">Self care</div><div class="t" id="t2" style="left:259.24px;top:160.98px;font-size:21px;font-weight:bold;color:#ffffff;transform:scaleX(0.9657)">Pharmacy</div><div class="t" id="t3" style="left:456.60px;top:160.08px;font-size:21px;font-weight:bold;color:#ffffff;transform:scaleX(0.9963)">NHS 111</div><div class="t" id="t4" style="left:644.43px;top:159.68px;font-size:21px;font-weight:bold;color:#ffffff;transform:scaleX(0.9480)">GP advice</div><div class="t" id="t5" style="left:841.42px;top:159.68px;font-size:21px;font-weight:bold;color:#ffffff;transform:scaleX(0.9748)">Urgent care</div><div class="t" id="t6" style="left:48.07px;top:514.18px;font-size:21px;font-weight:bold;color:#ffffff;transform:scaleX(0.9318)">Mental health</div><div class="t" id="t7" style="left:848.06px;top:589.18px;font-size:21px;font-weight:bold;color:#ffffff;transform:scaleX(0.9411)">Emergency</div><div class="t" id="t8" style="left:259.38px;top:571.52px;font-size:19px;font-weight:bold;color:#ffffff;transform:scaleX(1.0124)">Minor Eye Conditions Service (MECS)</div><div class="t" id="t9" style="left:282.69px;top:529.08px;font-size:14.8px;font-weight:bold;color:#007ac6;transform:scaleX(1.0890)">Self-referral: 0800 112 0070 or call 111</div><div class="t" id="t10" style="left:60.39px;top:209.66px;font-size:12px;font-weight:bold;color:#231f20;transform:scaleX(0.9838)">Treat minor ailments such</div><div class="t" id="t11" style="left:60.39px;top:225.86px;font-size:12px;font-weight:bold;color:#231f20;transform:scaleX(0.9946)">as diarrhoea and vomiting</div><div class="t" id="t12" style="left:60.38px;top:242.36px;font-size:12px;font-weight:bold;color:#231f20;transform:scaleX(1.0286)">at home:</div><div class="t" id="t13" style="left:59.36px;top:258.86px;font-size:12px;font-weight:normal;color:#231f20;transform:scaleX(1.0213)">Keep stocked up: be</div><div class="t" id="t14" style="left:60.37px;top:274.66px;font-size:12px;font-weight:normal;color:#231f20;transform:scaleX(1.0488)">prepared with essential</div><div class="t" id="t15" style="left:60.38px;top:290.96px;font-size:12px;font-weight:normal;color:#231f20;transform:scaleX(1.0260)">medicines and supplies.</div><div class="t" id="t16" style="left:60.39px;top:323.56px;font-size:12px;font-weight:bold;color:#231f20;transform:scaleX(0.9905)">Useful items:</div><div class="t" id="t17" style="left:60.38px;top:340.46px;font-size:12px;font-weight:normal;color:#231f20;transform:scaleX(1.0336)">Aspirin; Paracetamol;</div><div class="t" id="t18" style="left:60.37px;top:356.86px;font-size:12px;font-weight:normal;color:#231f20;transform:scaleX(1.0661)">Antidiarrheal medicine;</div><div class="t" id="t19" style="left:60.38px;top:372.96px;font-size:12px;font-weight:normal;color:#231f20;transform:scaleX(1.0187)">Cough medicine; Plasters;</div><div class="t" id="t20" style="left:60.36px;top:389.26px;font-size:12px;font-weight:normal;color:#231f20;transform:scaleX(1.0721)">Thermometer; Antiseptic</div><div class="t" id="t21" style="left:60.37px;top:405.26px;font-size:12px;font-weight:normal;color:#231f20;transform:scaleX(1.0469)">cream</div><div class="t" id="t22" style="left:261.41px;top:209.66px;font-size:12px;font-weight:bold;color:#231f20;transform:scaleX(0.9721)">Your local pharmacy can</div><div class="t" id="t23" style="left:261.38px;top:225.56px;font-size:12px;font-weight:bold;color:#231f20;transform:scaleX(1.0113)">help treat minor ailments</div><div class="t" id="t24" style="left:261.41px;top:242.26px;font-size:12px;font-weight:bold;color:#231f20;transform:scaleX(0.9732)">including:</div><div class="t" id="t25" style="left:262.40px;top:274.66px;font-size:12px;font-weight:normal;color:#231f20;transform:scaleX(1.0598)">Acute ear infection;</div><div class="t" id="t26" style="left:261.34px;top:291.36px;font-size:12px;font-weight:normal;color:#231f20;transform:scaleX(1.0550)">Impetigo; Infected insect</div><div class="t" id="t27" style="left:261.37px;top:308.06px;font-size:12px;font-weight:normal;color:#231f20;transform:scaleX(1.0169)">bite; Shingles; Sinusitis; Sore</div><div class="t" id="t28" style="left:262.40px;top:323.76px;font-size:12px;font-weight:normal;color:#231f20;transform:scaleX(1.0737)">throat; and</div><div class="t" id="t29" style="left:261.35px;top:340.46px;font-size:12px;font-weight:normal;color:#231f20;transform:scaleX(1.0437)">Uncomplicated Urinary Tract</div><div class="t" id="t30" style="left:261.37px;top:356.46px;font-size:12px;font-weight:normal;color:#231f20;transform:scaleX(1.0241)">Infections (UTIs)</div><div class="t" id="t31" style="left:454.60px;top:209.66px;font-size:12px;font-weight:bold;color:#231f20;transform:scaleX(0.9926)">Non-emergency help:</div><div class="t" id="t32" style="left:454.59px;top:242.66px;font-size:12px;font-weight:normal;color:#231f20;transform:scaleX(1.0289)">- Feeling unwell?</div><div class="t" id="t33" style="left:454.59px;top:258.86px;font-size:12px;font-weight:normal;color:#231f20;transform:scaleX(1.0154)">- Unsure?</div><div class="t" id="t34" style="left:454.59px;top:274.86px;font-size:12px;font-weight:normal;color:#231f20;transform:scaleX(1.0161)">- Anxious?</div><div class="t" id="t35" style="left:454.59px;top:291.76px;font-size:12px;font-weight:normal;color:#231f20;transform:scaleX(1.0279)">- Need help?</div><div class="t" id="t36" style="left:453.54px;top:323.66px;font-size:12px;font-weight:normal;color:#231f20;transform:scaleX(1.0488)">Use 111 if you’re unsure</div><div class="t" id="t37" style="left:454.59px;top:340.46px;font-size:12px;font-weight:normal;color:#231f20;transform:scaleX(1.0288)">which service you need or</div><div class="t" id="t38" style="left:454.59px;top:356.66px;font-size:12px;font-weight:normal;color:#231f20;transform:scaleX(1.0347)">require advice and guidance</div><div class="t" id="t39" style="left:454.59px;top:389.66px;font-size:12px;font-weight:normal;color:#231f20;transform:scaleX(1.0268)"><b>Call 111</b> or visit</div><div class="t" id="t40" style="left:454.59px;top:405.46px;font-size:12px;font-weight:bold;color:#231f20;transform:scaleX(1.0451)">www.111.nhs.uk</div><div class="t" id="t41" style="left:647.60px;top:209.66px;font-size:12px;font-weight:bold;color:#231f20;transform:scaleX(0.9947)">Skilled team of medical</div><div class="t" id="t42" style="left:647.62px;top:225.46px;font-size:12px;font-weight:bold;color:#231f20;transform:scaleX(0.9610)">professionals</div><div class="t" id="t43" style="left:647.58px;top:258.76px;font-size:12px;font-weight:normal;color:#231f20;transform:scaleX(1.0194)">- Lasting symptoms</div><div class="t" id="t44" style="left:647.57px;top:274.56px;font-size:12px;font-weight:normal;color:#231f20;transform:scaleX(1.0370)">- Chronic pain</div><div class="t" id="t45" style="left:647.56px;top:291.46px;font-size:12px;font-weight:normal;color:#231f20;transform:scaleX(1.0534)">- Long-term conditions</div><div class="t" id="t46" style="left:647.58px;top:307.46px;font-size:12px;font-weight:normal;color:#231f20;transform:scaleX(1.0237)">- Prescriptions</div><div class="t" id="t47" style="left:647.61px;top:421.66px;font-size:12px;font-weight:bold;color:#231f20;transform:scaleX(0.9854)">Doncaster Same Day Health</div><div class="t" id="t48" style="left:647.58px;top:438.06px;font-size:12px;font-weight:bold;color:#231f20;transform:scaleX(1.0175)">Centre:</div><div class="t" id="t49" style="left:647.56px;top:470.66px;font-size:12px;font-weight:normal;color:#231f20;transform:scaleX(1.0486)">If you are unable to get an</div><div class="t" id="t50" style="left:647.54px;top:486.96px;font-size:12px;font-weight:normal;color:#231f20;transform:scaleX(1.0874)">urgent appointment with</div><div class="t" id="t51" style="left:648.61px;top:503.46px;font-size:12px;font-weight:normal;color:#231f20;transform:scaleX(1.0577)">your practice.</div><div class="t" id="t52" style="left:647.59px;top:633.36px;font-size:12px;font-weight:bold;color:#231f20;transform:scaleX(1.0096)">Call 0300 123 3103</div><div class="t" id="t53" style="left:647.58px;top:666.46px;font-size:12px;font-weight:normal;color:#231f20;transform:scaleX(1.0214)">Evening and weekend</div><div class="t" id="t54" style="left:647.56px;top:682.36px;font-size:12px;font-weight:normal;color:#231f20;transform:scaleX(1.0492)">appointments available</div><div class="t" id="t55" style="left:851.98px;top:209.36px;font-size:12px;font-weight:bold;color:#231f20;transform:scaleX(1.0229)">Urgent treatment</div><div class="t" id="t56" style="left:853.00px;top:225.46px;font-size:12px;font-weight:normal;color:#231f20;transform:scaleX(1.0255)">- Simple fractures</div><div class="t" id="t57" style="left:853.00px;top:242.36px;font-size:12px;font-weight:normal;color:#231f20;transform:scaleX(0.9973)">- Sprains and breaks</div><div class="t" id="t58" style="left:853.00px;top:258.46px;font-size:12px;font-weight:normal;color:#231f20;transform:scaleX(1.0148)">- Cuts and burns</div><div class="t" id="t59" style="left:851.99px;top:307.26px;font-size:12px;font-weight:bold;color:#231f20;transform:scaleX(1.0118)">Mexborough Minor Injuries</div><div class="t" id="t60" style="left:851.90px;top:322.86px;font-size:12px;font-weight:bold;color:#231f20;transform:scaleX(1.0960)">Unit:</div><div class="t" id="t61" style="left:851.93px;top:425.26px;font-size:12px;font-weight:normal;color:#231f20;transform:scaleX(1.0653)">Montagu Hospital,</div><div class="t" id="t62" style="left:853.00px;top:440.56px;font-size:12px;font-weight:normal;color:#231f20;transform:scaleX(1.0194)">Adwick Road,</div><div class="t" id="t63" style="left:851.98px;top:456.06px;font-size:12px;font-weight:normal;color:#231f20;transform:scaleX(1.0176)">Mexborough, S64 0AZ</div><div class="t" id="t64" style="left:56.19px;top:560.56px;font-size:12px;font-weight:bold;color:#231f20;transform:scaleX(1.0111)">Donny Dot:</div><div class="t" id="t65" style="left:56.18px;top:576.56px;font-size:12px;font-weight:normal;color:#231f20;transform:scaleX(1.0451)">Connecting people of</div><div class="t" id="t66" style="left:56.17px;top:592.56px;font-size:12px;font-weight:normal;color:#231f20;transform:scaleX(1.0556)">Doncaster to mental health</div><div class="t" id="t67" style="left:56.16px;top:609.16px;font-size:12px;font-weight:normal;color:#231f20;transform:scaleX(1.0739)">and wellbeing information,</div><div class="t" id="t68" style="left:56.18px;top:624.96px;font-size:12px;font-weight:normal;color:#231f20;transform:scaleX(1.0452)">advice, and support</div><div class="t" id="t69" style="left:135.91px;top:656.92px;font-size:10.2px;font-weight:normal;color:#231f20;transform:scaleX(1.0924)">In a mental health</div><div class="t" id="t70" style="left:137.00px;top:671.02px;font-size:10.2px;font-weight:normal;color:#231f20;transform:scaleX(1.0300)">crisis, please phone</div><div class="t" id="t71" style="left:137.00px;top:684.92px;font-size:10.2px;font-weight:normal;color:#231f20;transform:scaleX(1.0517)">the local service on</div><div class="t" id="t72" style="left:137.00px;top:699.02px;font-size:10.2px;font-weight:bold;color:#231f20;transform:scaleX(1.0353)">0800 804 8999</div><div class="t" id="t73" style="left:137.00px;top:712.42px;font-size:10.2px;font-weight:normal;color:#231f20;transform:scaleX(1.0800)">or call 111</div><div class="t" id="t74" style="left:276.99px;top:616.46px;font-size:12px;font-weight:normal;color:#231f20;transform:scaleX(1.0082)">Red eye or eyelids</div><div class="t" id="t75" style="left:276.93px;top:632.46px;font-size:12px;font-weight:normal;color:#231f20;transform:scaleX(1.0678)">Dry, gritty or uncomfortable</div><div class="t" id="t76" style="left:278.00px;top:648.96px;font-size:12px;font-weight:normal;color:#231f20;transform:scaleX(0.9440)">eyes</div><div class="t" id="t77" style="left:276.94px;top:665.56px;font-size:12px;font-weight:normal;color:#231f20;transform:scaleX(1.0591)">Eye irritation and</div><div class="t" id="t78" style="left:276.89px;top:681.36px;font-size:12px;font-weight:normal;color:#231f20;transform:scaleX(1.1061)">inflammation</div><div class="t" id="t79" style="left:278.00px;top:698.16px;font-size:12px;font-weight:normal;color:#231f20;transform:scaleX(1.0453)">A lot of recent discharge</div><div class="t" id="t80" style="left:278.00px;top:713.96px;font-size:12px;font-weight:normal;color:#231f20;transform:scaleX(1.0465)">from the eye or watery eye</div><div class="t" id="t81" style="left:458.37px;top:616.46px;font-size:12px;font-weight:normal;color:#231f20;transform:scaleX(1.0214)">Recently occurring flashes</div><div class="t" id="t82" style="left:458.32px;top:632.46px;font-size:12px;font-weight:normal;color:#231f20;transform:scaleX(1.0788)">or floaters</div><div class="t" id="t83" style="left:458.36px;top:648.96px;font-size:12px;font-weight:normal;color:#231f20;transform:scaleX(1.0293)">Painful eye</div><div class="t" id="t84" style="left:458.36px;top:665.06px;font-size:12px;font-weight:normal;color:#231f20;transform:scaleX(1.0315)">Ingrowing lashes</div><div class="t" id="t85" style="left:458.38px;top:681.36px;font-size:12px;font-weight:normal;color:#231f20;transform:scaleX(1.0127)">Recent and sudden loss of</div><div class="t" id="t86" style="left:459.39px;top:698.16px;font-size:12px;font-weight:normal;color:#231f20;transform:scaleX(1.0400)">vision</div><div class="t" id="t87" style="left:458.36px;top:713.96px;font-size:12px;font-weight:normal;color:#231f20;transform:scaleX(1.0379)">Foreign body in the eye</div><div class="t" id="t88" style="left:851.20px;top:635.96px;font-size:12px;font-weight:bold;color:#231f20;transform:scaleX(0.9893)">Emergency Department or</div><div class="t" id="t89" style="left:851.20px;top:651.66px;font-size:12px;font-weight:bold;color:#231f20;transform:scaleX(0.9912)">999 for emergencies only:</div><div class="t" id="t90" style="left:851.19px;top:667.66px;font-size:12px;font-weight:normal;color:#231f20;transform:scaleX(1.0173)">Choking, Chest pain,</div><div class="t" id="t91" style="left:851.18px;top:683.56px;font-size:12px;font-weight:normal;color:#231f20;transform:scaleX(1.0306)">Blacking out, Serious blood</div><div class="t" id="t92" style="left:851.18px;top:700.16px;font-size:12px;font-weight:normal;color:#231f20;transform:scaleX(1.0372)">loss, Significant injury or</div><div class="t" id="t93" style="left:851.17px;top:716.36px;font-size:12px;font-weight:normal;color:#231f20;transform:scaleX(1.0676)">trauma</div><div class="t" id="t94" style="left:927.00px;top:44.46px;font-size:17px;font-weight:bold;color:#151515;transform:scaleX(0.9922)">South Yorkshire</div><div class="t" id="t95" style="left:935.58px;top:64.50px;font-size:11.2px;font-weight:bold;color:#1780ec;transform:scaleX(1.0276)">Integrated Care Board</div></body></html>
